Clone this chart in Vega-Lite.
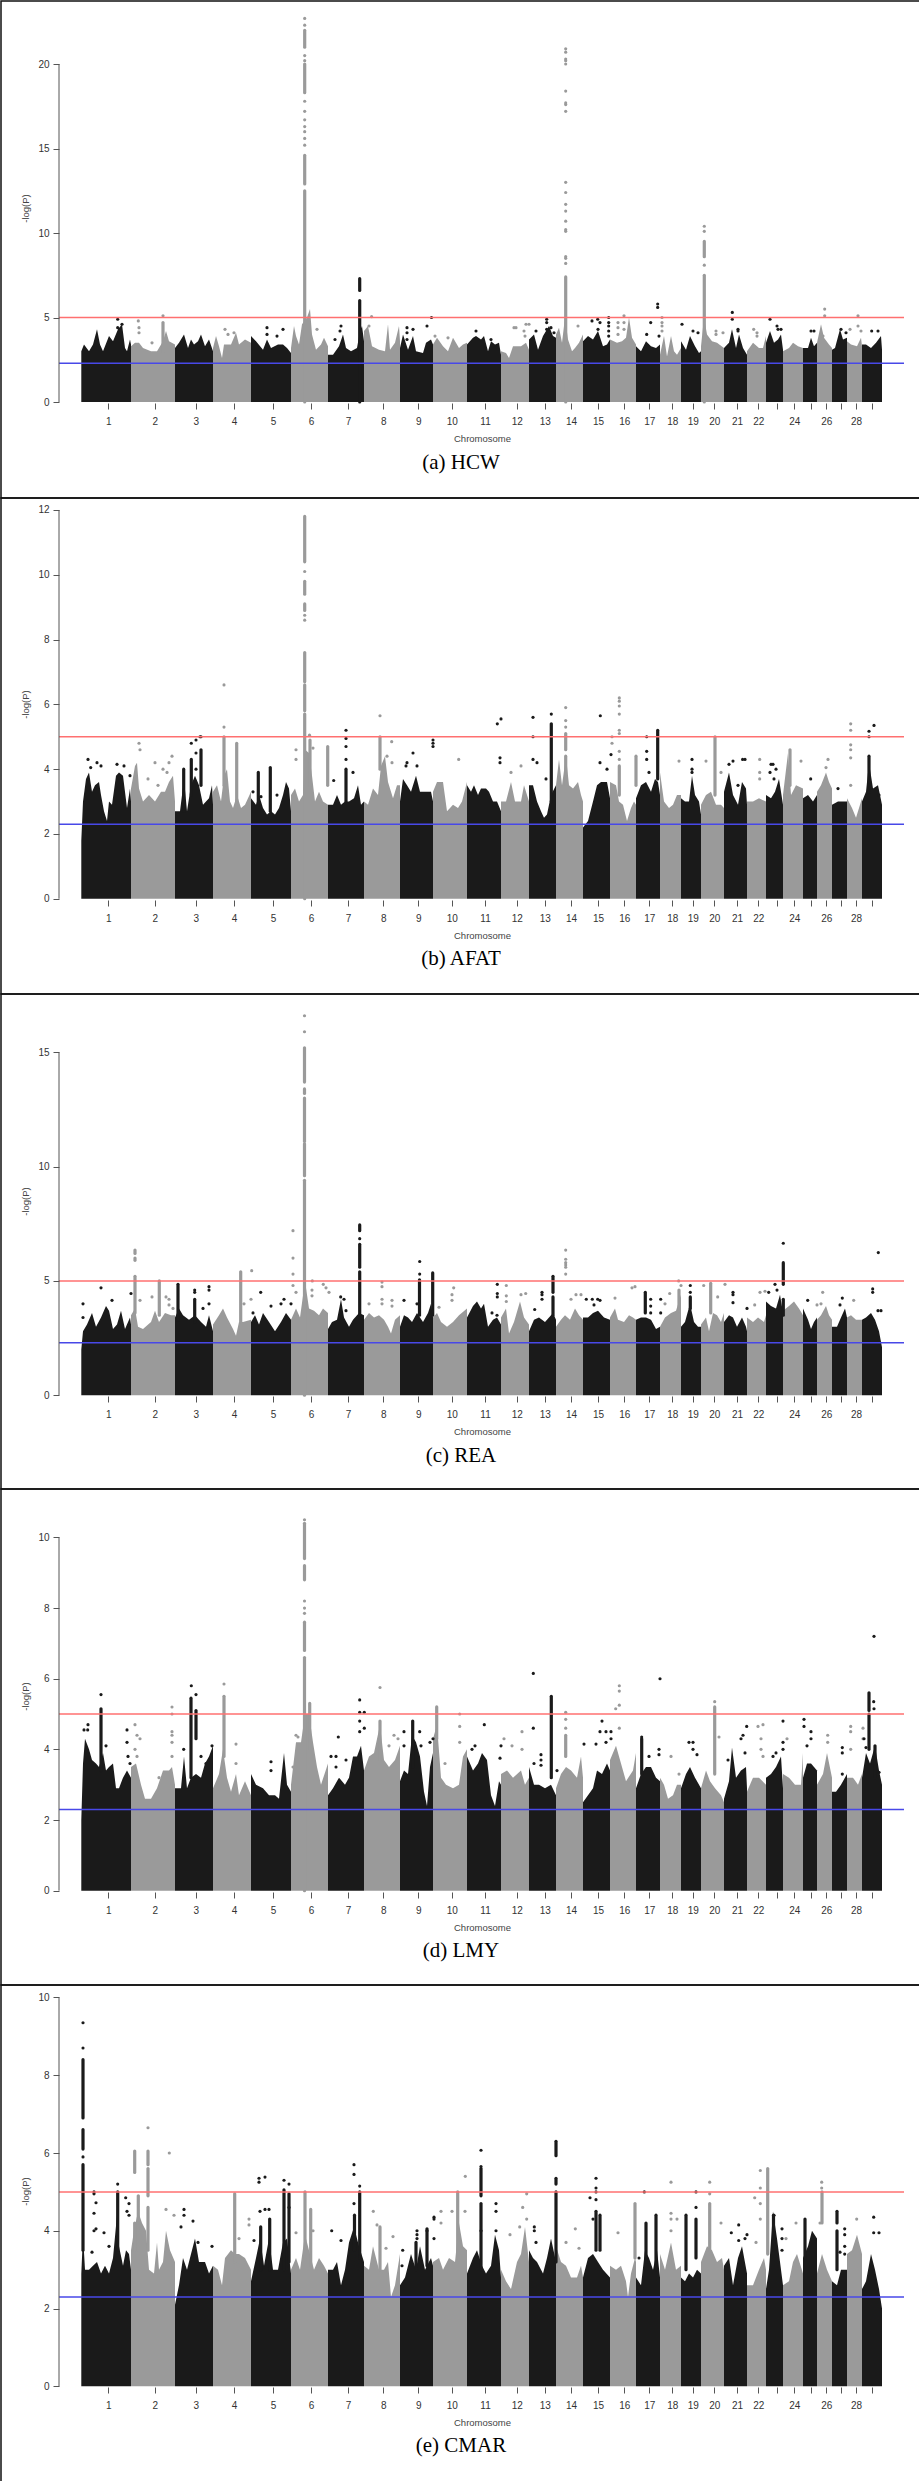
{"$schema":"https://vega.github.io/schema/vega-lite/v6.json","background":"white","padding":0,"spacing":0,"bounds":"flush","config":{"view":{"stroke":"#111111","strokeWidth":1.5},"font":"Liberation Sans"},
"datasets":{
"a_sky":[{"chr":1,"pos":0.3,"y":3.0},{"chr":1,"pos":3,"y":3.4},{"chr":1,"pos":8,"y":3.0},{"chr":1,"pos":12,"y":3.4},{"chr":1,"pos":16,"y":4.3},{"chr":1,"pos":19,"y":3.4},{"chr":1,"pos":22,"y":3.0},{"chr":1,"pos":28,"y":3.9},{"chr":1,"pos":32,"y":3.6},{"chr":1,"pos":37,"y":4.3},{"chr":1,"pos":41,"y":4.6},{"chr":1,"pos":44,"y":3.2},{"chr":1,"pos":46,"y":3.0},{"chr":1,"pos":49,"y":3.7},{"chr":1,"pos":50,"y":3.4},
{"chr":2,"pos":50,"y":3.3},{"chr":2,"pos":54,"y":3.5},{"chr":2,"pos":58,"y":3.5},{"chr":2,"pos":62,"y":3.2},{"chr":2,"pos":70,"y":3.0},{"chr":2,"pos":76,"y":3.0},{"chr":2,"pos":82,"y":3.6},{"chr":2,"pos":85,"y":4.2},{"chr":2,"pos":88,"y":3.6},{"chr":2,"pos":94,"y":3.4},
{"chr":3,"pos":94,"y":3.2},{"chr":3,"pos":98,"y":3.5},{"chr":3,"pos":103,"y":4.0},{"chr":3,"pos":107,"y":3.2},{"chr":3,"pos":110,"y":3.7},{"chr":3,"pos":113,"y":3.4},{"chr":3,"pos":117,"y":3.6},{"chr":3,"pos":120,"y":4.0},{"chr":3,"pos":124,"y":3.3},{"chr":3,"pos":128,"y":3.7},{"chr":3,"pos":132,"y":3.0},
{"chr":4,"pos":132,"y":3.2},{"chr":4,"pos":135,"y":3.9},{"chr":4,"pos":138,"y":3.3},{"chr":4,"pos":141,"y":2.6},{"chr":4,"pos":143,"y":3.4},{"chr":4,"pos":150,"y":3.4},{"chr":4,"pos":155,"y":4.1},{"chr":4,"pos":158,"y":3.4},{"chr":4,"pos":164,"y":3.7},{"chr":4,"pos":170,"y":3.5},
{"chr":5,"pos":170,"y":3.9},{"chr":5,"pos":175,"y":3.6},{"chr":5,"pos":182,"y":3.1},{"chr":5,"pos":186,"y":3.7},{"chr":5,"pos":190,"y":3.2},{"chr":5,"pos":197,"y":3.4},{"chr":5,"pos":202,"y":3.4},{"chr":5,"pos":206,"y":3.2},{"chr":5,"pos":210,"y":2.9},
{"chr":6,"pos":210,"y":3.2},{"chr":6,"pos":213,"y":4.5},{"chr":6,"pos":215,"y":3.9},{"chr":6,"pos":218,"y":3.4},{"chr":6,"pos":221,"y":4.6},{"chr":6,"pos":226,"y":5.0},{"chr":6,"pos":229,"y":5.5},{"chr":6,"pos":231,"y":4.0},{"chr":6,"pos":235,"y":3.1},{"chr":6,"pos":240,"y":3.4},{"chr":6,"pos":243,"y":3.8},{"chr":6,"pos":247,"y":3.3},
{"chr":7,"pos":247,"y":2.8},{"chr":7,"pos":252,"y":2.8},{"chr":7,"pos":258,"y":3.3},{"chr":7,"pos":262,"y":4.0},{"chr":7,"pos":265,"y":3.2},{"chr":7,"pos":270,"y":3.0},{"chr":7,"pos":276,"y":3.2},{"chr":7,"pos":279,"y":4.2},{"chr":7,"pos":281,"y":4.5},{"chr":7,"pos":283,"y":3.6},
{"chr":8,"pos":283,"y":4.2},{"chr":8,"pos":287,"y":4.5},{"chr":8,"pos":291,"y":3.3},{"chr":8,"pos":298,"y":3.1},{"chr":8,"pos":304,"y":3.0},{"chr":8,"pos":307,"y":4.6},{"chr":8,"pos":309,"y":3.1},{"chr":8,"pos":314,"y":3.5},{"chr":8,"pos":318,"y":4.5},{"chr":8,"pos":319,"y":3.6},
{"chr":9,"pos":319,"y":3.2},{"chr":9,"pos":322,"y":4.0},{"chr":9,"pos":327,"y":3.1},{"chr":9,"pos":332,"y":3.9},{"chr":9,"pos":335,"y":3.0},{"chr":9,"pos":342,"y":2.9},{"chr":9,"pos":345,"y":3.5},{"chr":9,"pos":350,"y":3.7},{"chr":9,"pos":352,"y":3.4},
{"chr":10,"pos":352,"y":3.4},{"chr":10,"pos":356,"y":3.8},{"chr":10,"pos":362,"y":3.3},{"chr":10,"pos":367,"y":3.0},{"chr":10,"pos":372,"y":3.8},{"chr":10,"pos":378,"y":3.2},{"chr":10,"pos":382,"y":3.4},{"chr":10,"pos":386,"y":3.5},
{"chr":11,"pos":386,"y":3.4},{"chr":11,"pos":392,"y":3.8},{"chr":11,"pos":395,"y":3.9},{"chr":11,"pos":400,"y":3.7},{"chr":11,"pos":403,"y":3.9},{"chr":11,"pos":407,"y":3.0},{"chr":11,"pos":410,"y":3.6},{"chr":11,"pos":414,"y":3.4},{"chr":11,"pos":418,"y":3.5},{"chr":11,"pos":420,"y":2.8},
{"chr":12,"pos":420,"y":3.0},{"chr":12,"pos":425,"y":2.9},{"chr":12,"pos":428,"y":2.6},{"chr":12,"pos":432,"y":3.3},{"chr":12,"pos":440,"y":3.3},{"chr":12,"pos":445,"y":3.5},{"chr":12,"pos":448,"y":3.1},
{"chr":13,"pos":448,"y":3.7},{"chr":13,"pos":453,"y":4.0},{"chr":13,"pos":457,"y":3.1},{"chr":13,"pos":462,"y":3.9},{"chr":13,"pos":468,"y":4.5},{"chr":13,"pos":472,"y":3.9},{"chr":13,"pos":475,"y":3.8},
{"chr":14,"pos":475,"y":4.0},{"chr":14,"pos":478,"y":4.4},{"chr":14,"pos":481,"y":3.5},{"chr":14,"pos":484,"y":5.0},{"chr":14,"pos":487,"y":3.7},{"chr":14,"pos":491,"y":3.0},{"chr":14,"pos":494,"y":3.2},{"chr":14,"pos":498,"y":3.5},{"chr":14,"pos":502,"y":4.0},
{"chr":15,"pos":502,"y":3.6},{"chr":15,"pos":507,"y":3.9},{"chr":15,"pos":512,"y":3.7},{"chr":15,"pos":517,"y":4.2},{"chr":15,"pos":522,"y":3.3},{"chr":15,"pos":526,"y":3.4},{"chr":15,"pos":529,"y":3.7},
{"chr":16,"pos":529,"y":3.7},{"chr":16,"pos":536,"y":3.5},{"chr":16,"pos":541,"y":3.6},{"chr":16,"pos":545,"y":3.8},{"chr":16,"pos":548,"y":5.0},{"chr":16,"pos":551,"y":3.8},{"chr":16,"pos":555,"y":3.4},
{"chr":17,"pos":555,"y":3.3},{"chr":17,"pos":560,"y":3.0},{"chr":17,"pos":565,"y":3.6},{"chr":17,"pos":570,"y":3.3},{"chr":17,"pos":575,"y":3.2},{"chr":17,"pos":579,"y":3.4},
{"chr":18,"pos":579,"y":2.8},{"chr":18,"pos":583,"y":3.9},{"chr":18,"pos":586,"y":2.7},{"chr":18,"pos":590,"y":3.9},{"chr":18,"pos":593,"y":3.0},{"chr":18,"pos":596,"y":2.8},{"chr":18,"pos":600,"y":3.2},
{"chr":19,"pos":600,"y":3.6},{"chr":19,"pos":605,"y":3.1},{"chr":19,"pos":609,"y":3.9},{"chr":19,"pos":614,"y":3.3},{"chr":19,"pos":618,"y":2.9},{"chr":19,"pos":620,"y":3.0},
{"chr":20,"pos":620,"y":3.3},{"chr":20,"pos":623,"y":5.0},{"chr":20,"pos":626,"y":4.0},{"chr":20,"pos":631,"y":3.6},{"chr":20,"pos":636,"y":3.5},{"chr":20,"pos":643,"y":3.2},
{"chr":21,"pos":643,"y":3.2},{"chr":21,"pos":648,"y":3.5},{"chr":21,"pos":651,"y":4.3},{"chr":21,"pos":655,"y":3.2},{"chr":21,"pos":658,"y":4.0},{"chr":21,"pos":662,"y":3.2},{"chr":21,"pos":666,"y":2.8},
{"chr":22,"pos":666,"y":3.0},{"chr":22,"pos":672,"y":3.5},{"chr":22,"pos":678,"y":3.2},{"chr":22,"pos":682,"y":3.2},{"chr":22,"pos":685,"y":3.9},
{"chr":23,"pos":685,"y":3.5},{"chr":23,"pos":689,"y":4.2},{"chr":23,"pos":693,"y":3.5},{"chr":23,"pos":697,"y":3.7},{"chr":23,"pos":700,"y":4.0},{"chr":23,"pos":702,"y":3.1},
{"chr":24,"pos":702,"y":3.0},{"chr":24,"pos":708,"y":3.2},{"chr":24,"pos":712,"y":3.5},{"chr":24,"pos":717,"y":3.3},{"chr":24,"pos":722,"y":3.2},
{"chr":25,"pos":722,"y":3.2},{"chr":25,"pos":727,"y":3.2},{"chr":25,"pos":730,"y":3.8},{"chr":25,"pos":733,"y":3.3},{"chr":25,"pos":736,"y":3.5},
{"chr":26,"pos":736,"y":3.5},{"chr":26,"pos":740,"y":4.6},{"chr":26,"pos":743,"y":3.8},{"chr":26,"pos":748,"y":3.4},{"chr":26,"pos":751,"y":3.2},
{"chr":27,"pos":751,"y":3.1},{"chr":27,"pos":754,"y":3.2},{"chr":27,"pos":759,"y":4.3},{"chr":27,"pos":762,"y":3.7},{"chr":27,"pos":766,"y":3.8},
{"chr":28,"pos":766,"y":3.6},{"chr":28,"pos":770,"y":3.4},{"chr":28,"pos":776,"y":3.3},{"chr":28,"pos":780,"y":3.8},{"chr":28,"pos":781,"y":3.3},
{"chr":29,"pos":781,"y":3.4},{"chr":29,"pos":785,"y":3.4},{"chr":29,"pos":790,"y":3.2},{"chr":29,"pos":795,"y":3.5},{"chr":29,"pos":800,"y":3.9},{"chr":29,"pos":801,"y":3.1}],
"a_runs":[{"chr":6,"pos":223.7,"lo":0,"y":12.5},{"chr":6,"pos":223.7,"lo":12.9,"y":14.6},{"chr":6,"pos":223.7,"lo":18.3,"y":20},{"chr":6,"pos":223.7,"lo":21,"y":22},{"chr":2,"pos":82,"lo":3,"y":4.7},{"chr":7,"pos":278.7,"lo":0,"y":6.0},{"chr":7,"pos":278.7,"lo":6.6,"y":7.3},{"chr":14,"pos":484.7,"lo":0,"y":7.4},{"chr":20,"pos":623.3,"lo":0,"y":7.5},{"chr":20,"pos":623.3,"lo":8.6,"y":9.5}],
"a_dots":[{"chr":6,"pos":223.7,"y":22.7},{"chr":6,"pos":223.7,"y":22.3},{"chr":6,"pos":223.7,"y":20.5},{"chr":6,"pos":223.7,"y":20.2},{"chr":6,"pos":223.7,"y":17.8},{"chr":6,"pos":223.7,"y":17.2},{"chr":6,"pos":223.7,"y":16.7},{"chr":6,"pos":223.7,"y":16.3},{"chr":6,"pos":223.7,"y":16},{"chr":6,"pos":223.7,"y":15.6},{"chr":6,"pos":223.7,"y":15.2},{"chr":14,"pos":484.7,"y":20.9},{"chr":14,"pos":484.7,"y":20.7},{"chr":14,"pos":484.7,"y":20.3},{"chr":14,"pos":484.7,"y":20.2},{"chr":14,"pos":484.7,"y":20},{"chr":14,"pos":484.7,"y":18.4},{"chr":14,"pos":484.7,"y":17.7},{"chr":14,"pos":484.7,"y":17.6},{"chr":14,"pos":484.7,"y":17.2},{"chr":14,"pos":484.7,"y":13},{"chr":14,"pos":484.7,"y":12.4},{"chr":14,"pos":484.7,"y":11.7},{"chr":14,"pos":484.7,"y":11.3},{"chr":14,"pos":484.7,"y":10.7},{"chr":14,"pos":484.7,"y":10.2},{"chr":14,"pos":484.7,"y":10.1},{"chr":14,"pos":484.7,"y":8.6},{"chr":14,"pos":484.7,"y":8.5},{"chr":14,"pos":484.7,"y":8.2},{"chr":20,"pos":623.3,"y":10.4},{"chr":20,"pos":623.3,"y":10.1},{"chr":20,"pos":623.3,"y":8.1},
{"chr":1,"pos":36.7,"y":4.9},{"chr":1,"pos":36.7,"y":4.4},{"chr":1,"pos":41,"y":4.6},{"chr":2,"pos":57.3,"y":4.8},{"chr":2,"pos":58,"y":4.4},{"chr":2,"pos":58,"y":4.1},{"chr":2,"pos":71,"y":3.5},{"chr":2,"pos":82,"y":5.1},{"chr":4,"pos":144,"y":4.3},{"chr":4,"pos":147,"y":4},{"chr":4,"pos":153,"y":4.1},{"chr":5,"pos":186,"y":4.4},{"chr":5,"pos":186,"y":4.0},{"chr":5,"pos":196,"y":3.9},{"chr":5,"pos":202,"y":4.3},{"chr":6,"pos":236,"y":4.3},{"chr":7,"pos":254,"y":3.7},{"chr":7,"pos":260,"y":4.5},{"chr":7,"pos":259,"y":4.2},{"chr":8,"pos":290.6,"y":5.05},{"chr":8,"pos":288,"y":4.5},{"chr":9,"pos":326,"y":4.4},{"chr":9,"pos":326,"y":4.1},{"chr":9,"pos":326,"y":3.7},{"chr":9,"pos":332,"y":4.3},{"chr":9,"pos":346,"y":4.5},{"chr":9,"pos":350.5,"y":5.0},{"chr":10,"pos":354,"y":3.9},{"chr":10,"pos":367,"y":3.8},{"chr":11,"pos":395,"y":4.2},{"chr":11,"pos":410,"y":3.7},{"chr":12,"pos":433,"y":4.4},{"chr":12,"pos":435,"y":4.4},{"chr":12,"pos":443,"y":4.2},{"chr":12,"pos":445,"y":4.6},{"chr":12,"pos":448,"y":4.6},{"chr":12,"pos":444,"y":3.9},{"chr":13,"pos":455,"y":4.2},{"chr":13,"pos":465.7,"y":4.9},{"chr":13,"pos":465.7,"y":4.7},{"chr":13,"pos":465.7,"y":4.3},{"chr":13,"pos":470,"y":4.4},{"chr":13,"pos":473,"y":4.1},{"chr":14,"pos":497,"y":4.5},{"chr":15,"pos":511,"y":4.8},{"chr":15,"pos":516.7,"y":4.9},{"chr":15,"pos":519,"y":4.7},{"chr":15,"pos":517,"y":4.3},{"chr":15,"pos":527.7,"y":5.0},{"chr":15,"pos":527.7,"y":4.7},{"chr":15,"pos":527.7,"y":4.5},{"chr":15,"pos":527.7,"y":4.2},{"chr":15,"pos":527.7,"y":3.9},{"chr":16,"pos":537,"y":4.7},{"chr":16,"pos":537,"y":4.4},{"chr":16,"pos":543,"y":5.1},{"chr":16,"pos":543,"y":4.7},{"chr":16,"pos":543,"y":4.3},{"chr":16,"pos":537,"y":4.0},{"chr":17,"pos":569.7,"y":4.7},{"chr":17,"pos":565.7,"y":4.0},{"chr":17,"pos":576.7,"y":5.8},{"chr":17,"pos":576.7,"y":5.6},{"chr":17,"pos":578,"y":3.9},{"chr":18,"pos":581,"y":5.0},{"chr":18,"pos":581,"y":4.7},{"chr":18,"pos":581,"y":4.5},{"chr":18,"pos":581,"y":4.2},{"chr":19,"pos":601,"y":4.6},{"chr":19,"pos":612,"y":4.2},{"chr":19,"pos":617,"y":4.1},{"chr":20,"pos":635,"y":4.2},{"chr":20,"pos":635,"y":4.0},{"chr":20,"pos":642,"y":4.1},{"chr":21,"pos":651.3,"y":5.3},{"chr":21,"pos":651.3,"y":4.9},{"chr":21,"pos":657,"y":4.3},{"chr":21,"pos":657,"y":4.2},{"chr":22,"pos":672.7,"y":4.3},{"chr":22,"pos":676,"y":4.1},{"chr":22,"pos":676,"y":3.9},{"chr":23,"pos":689,"y":4.9},{"chr":23,"pos":696,"y":4.5},{"chr":23,"pos":700,"y":4.3},{"chr":23,"pos":697,"y":4.3},{"chr":25,"pos":730,"y":4.2},{"chr":25,"pos":733,"y":4.2},{"chr":26,"pos":743.7,"y":5.5},{"chr":26,"pos":743.7,"y":5.1},{"chr":26,"pos":742,"y":3.9},{"chr":27,"pos":760,"y":4.3},{"chr":27,"pos":765,"y":4.1},{"chr":28,"pos":769,"y":4.3},{"chr":28,"pos":777,"y":5.1},{"chr":28,"pos":777,"y":4.5},{"chr":28,"pos":780,"y":4.2},{"chr":29,"pos":790.7,"y":4.2},{"chr":29,"pos":797,"y":4.2}],
"b_sky":[{"chr":1,"pos":0.3,"y":1.8},{"chr":1,"pos":2,"y":3.0},{"chr":1,"pos":5,"y":3.7},{"chr":1,"pos":8,"y":3.9},{"chr":1,"pos":11,"y":3.3},{"chr":1,"pos":14,"y":3.5},{"chr":1,"pos":18,"y":3.6},{"chr":1,"pos":20,"y":3.2},{"chr":1,"pos":23,"y":2.7},{"chr":1,"pos":26,"y":2.4},{"chr":1,"pos":28,"y":3.0},{"chr":1,"pos":31,"y":2.9},{"chr":1,"pos":35,"y":3.8},{"chr":1,"pos":38,"y":3.9},{"chr":1,"pos":42,"y":3.8},{"chr":1,"pos":46,"y":2.8},{"chr":1,"pos":49,"y":3.4},{"chr":1,"pos":50,"y":3.0},
{"chr":2,"pos":50,"y":3.4},{"chr":2,"pos":54,"y":4.1},{"chr":2,"pos":56,"y":4.2},{"chr":2,"pos":58,"y":3.4},{"chr":2,"pos":62,"y":3.0},{"chr":2,"pos":68,"y":3.2},{"chr":2,"pos":74,"y":3.0},{"chr":2,"pos":80,"y":3.3},{"chr":2,"pos":84,"y":3.3},{"chr":2,"pos":88,"y":3.6},{"chr":2,"pos":92,"y":3.8},{"chr":2,"pos":94,"y":3.0},
{"chr":3,"pos":94,"y":2.7},{"chr":3,"pos":99,"y":2.7},{"chr":3,"pos":103,"y":3.7},{"chr":3,"pos":106,"y":2.7},{"chr":3,"pos":110,"y":3.5},{"chr":3,"pos":114,"y":3.8},{"chr":3,"pos":118,"y":3.5},{"chr":3,"pos":122,"y":2.9},{"chr":3,"pos":128,"y":3.1},{"chr":3,"pos":131,"y":3.5},{"chr":3,"pos":132,"y":2.9},
{"chr":4,"pos":132,"y":3.3},{"chr":4,"pos":136,"y":3.5},{"chr":4,"pos":140,"y":3.0},{"chr":4,"pos":143,"y":3.8},{"chr":4,"pos":146,"y":4.0},{"chr":4,"pos":149,"y":3.0},{"chr":4,"pos":152,"y":2.8},{"chr":4,"pos":156,"y":3.2},{"chr":4,"pos":160,"y":2.8},{"chr":4,"pos":164,"y":2.9},{"chr":4,"pos":170,"y":3.3},
{"chr":5,"pos":170,"y":3.1},{"chr":5,"pos":175,"y":2.9},{"chr":5,"pos":178,"y":3.2},{"chr":5,"pos":182,"y":2.8},{"chr":5,"pos":186,"y":2.6},{"chr":5,"pos":190,"y":2.7},{"chr":5,"pos":194,"y":2.6},{"chr":5,"pos":198,"y":2.8},{"chr":5,"pos":202,"y":3.2},{"chr":5,"pos":205,"y":3.6},{"chr":5,"pos":208,"y":3.4},{"chr":5,"pos":210,"y":2.7},
{"chr":6,"pos":210,"y":3.2},{"chr":6,"pos":214,"y":3.4},{"chr":6,"pos":218,"y":3.0},{"chr":6,"pos":222,"y":3.2},{"chr":6,"pos":224,"y":4.6},{"chr":6,"pos":228,"y":4.5},{"chr":6,"pos":231,"y":3.8},{"chr":6,"pos":234,"y":3.0},{"chr":6,"pos":238,"y":3.3},{"chr":6,"pos":242,"y":3.0},{"chr":6,"pos":247,"y":2.9},
{"chr":7,"pos":247,"y":2.9},{"chr":7,"pos":252,"y":2.9},{"chr":7,"pos":256,"y":3.2},{"chr":7,"pos":260,"y":2.9},{"chr":7,"pos":264,"y":3.0},{"chr":7,"pos":268,"y":3.0},{"chr":7,"pos":273,"y":3.1},{"chr":7,"pos":277,"y":3.5},{"chr":7,"pos":280,"y":2.9},{"chr":7,"pos":283,"y":3.0},
{"chr":8,"pos":283,"y":3.0},{"chr":8,"pos":287,"y":2.9},{"chr":8,"pos":292,"y":3.4},{"chr":8,"pos":297,"y":3.2},{"chr":8,"pos":300,"y":4.1},{"chr":8,"pos":304,"y":4.4},{"chr":8,"pos":307,"y":3.6},{"chr":8,"pos":312,"y":3.1},{"chr":8,"pos":316,"y":3.5},{"chr":8,"pos":319,"y":3.5},
{"chr":9,"pos":319,"y":3.0},{"chr":9,"pos":322,"y":3.7},{"chr":9,"pos":326,"y":3.5},{"chr":9,"pos":330,"y":3.3},{"chr":9,"pos":335,"y":3.8},{"chr":9,"pos":339,"y":3.3},{"chr":9,"pos":344,"y":3.3},{"chr":9,"pos":350,"y":3.3},{"chr":9,"pos":352,"y":3.0},
{"chr":10,"pos":352,"y":3.3},{"chr":10,"pos":356,"y":3.6},{"chr":10,"pos":362,"y":3.6},{"chr":10,"pos":366,"y":2.7},{"chr":10,"pos":372,"y":2.9},{"chr":10,"pos":377,"y":2.8},{"chr":10,"pos":381,"y":3.0},{"chr":10,"pos":386,"y":3.6},
{"chr":11,"pos":386,"y":3.5},{"chr":11,"pos":390,"y":3.3},{"chr":11,"pos":393,"y":3.5},{"chr":11,"pos":397,"y":3.2},{"chr":11,"pos":400,"y":3.4},{"chr":11,"pos":405,"y":3.4},{"chr":11,"pos":408,"y":3.3},{"chr":11,"pos":412,"y":3.0},{"chr":11,"pos":416,"y":3.0},{"chr":11,"pos":420,"y":2.7},
{"chr":12,"pos":420,"y":3.0},{"chr":12,"pos":425,"y":3.0},{"chr":12,"pos":430,"y":3.6},{"chr":12,"pos":434,"y":3.0},{"chr":12,"pos":440,"y":3.0},{"chr":12,"pos":443,"y":3.5},{"chr":12,"pos":448,"y":3.0},
{"chr":13,"pos":448,"y":3.5},{"chr":13,"pos":452,"y":3.5},{"chr":13,"pos":456,"y":3.0},{"chr":13,"pos":460,"y":2.7},{"chr":13,"pos":463,"y":2.5},{"chr":13,"pos":466,"y":2.6},{"chr":13,"pos":470,"y":3.2},{"chr":13,"pos":475,"y":3.5},
{"chr":14,"pos":475,"y":3.5},{"chr":14,"pos":478,"y":4.3},{"chr":14,"pos":481,"y":3.5},{"chr":14,"pos":485,"y":4.4},{"chr":14,"pos":488,"y":3.5},{"chr":14,"pos":492,"y":3.4},{"chr":14,"pos":497,"y":3.6},{"chr":14,"pos":500,"y":3.2},{"chr":14,"pos":502,"y":3.0},
{"chr":15,"pos":502,"y":2.2},{"chr":15,"pos":507,"y":2.4},{"chr":15,"pos":512,"y":3.0},{"chr":15,"pos":516,"y":3.5},{"chr":15,"pos":520,"y":3.6},{"chr":15,"pos":526,"y":3.6},{"chr":15,"pos":529,"y":3.1},
{"chr":16,"pos":529,"y":3.6},{"chr":16,"pos":535,"y":3.5},{"chr":16,"pos":538,"y":3.0},{"chr":16,"pos":542,"y":2.9},{"chr":16,"pos":546,"y":2.4},{"chr":16,"pos":550,"y":2.8},{"chr":16,"pos":553,"y":3.0},{"chr":16,"pos":555,"y":2.9},
{"chr":17,"pos":555,"y":3.1},{"chr":17,"pos":560,"y":3.5},{"chr":17,"pos":565,"y":3.6},{"chr":17,"pos":570,"y":3.3},{"chr":17,"pos":574,"y":3.7},{"chr":17,"pos":577,"y":3.6},{"chr":17,"pos":579,"y":3.2},
{"chr":18,"pos":579,"y":3.9},{"chr":18,"pos":583,"y":3.0},{"chr":18,"pos":588,"y":2.8},{"chr":18,"pos":592,"y":2.9},{"chr":18,"pos":596,"y":3.2},{"chr":18,"pos":600,"y":3.2},
{"chr":19,"pos":600,"y":3.1},{"chr":19,"pos":604,"y":3.0},{"chr":19,"pos":608,"y":3.0},{"chr":19,"pos":611,"y":3.8},{"chr":19,"pos":614,"y":3.2},{"chr":19,"pos":618,"y":3.0},{"chr":19,"pos":620,"y":2.6},
{"chr":20,"pos":620,"y":2.9},{"chr":20,"pos":625,"y":3.2},{"chr":20,"pos":630,"y":3.3},{"chr":20,"pos":635,"y":2.9},{"chr":20,"pos":640,"y":2.9},{"chr":20,"pos":643,"y":2.8},
{"chr":21,"pos":643,"y":3.3},{"chr":21,"pos":648,"y":3.9},{"chr":21,"pos":652,"y":3.2},{"chr":21,"pos":657,"y":2.9},{"chr":21,"pos":661,"y":3.6},{"chr":21,"pos":665,"y":3.4},{"chr":21,"pos":666,"y":2.9},
{"chr":22,"pos":666,"y":3.0},{"chr":22,"pos":672,"y":3.0},{"chr":22,"pos":678,"y":3.1},{"chr":22,"pos":685,"y":3.0},
{"chr":23,"pos":685,"y":3.2},{"chr":23,"pos":690,"y":3.1},{"chr":23,"pos":694,"y":3.3},{"chr":23,"pos":698,"y":3.7},{"chr":23,"pos":702,"y":2.9},
{"chr":24,"pos":702,"y":3.2},{"chr":24,"pos":707,"y":4.5},{"chr":24,"pos":710,"y":3.2},{"chr":24,"pos":715,"y":3.5},{"chr":24,"pos":722,"y":3.4},
{"chr":25,"pos":722,"y":3.1},{"chr":25,"pos":727,"y":3.2},{"chr":25,"pos":732,"y":3.0},{"chr":25,"pos":736,"y":3.2},
{"chr":26,"pos":736,"y":3.3},{"chr":26,"pos":740,"y":3.5},{"chr":26,"pos":745,"y":3.9},{"chr":26,"pos":748,"y":3.6},{"chr":26,"pos":751,"y":3.4},
{"chr":27,"pos":751,"y":2.9},{"chr":27,"pos":757,"y":3.0},{"chr":27,"pos":762,"y":3.0},{"chr":27,"pos":766,"y":3.0},
{"chr":28,"pos":766,"y":3.1},{"chr":28,"pos":771,"y":2.8},{"chr":28,"pos":775,"y":2.5},{"chr":28,"pos":781,"y":3.1},
{"chr":29,"pos":781,"y":3.0},{"chr":29,"pos":785,"y":3.3},{"chr":29,"pos":788,"y":4.2},{"chr":29,"pos":792,"y":3.4},{"chr":29,"pos":797,"y":3.5},{"chr":29,"pos":801,"y":2.9}],
"b_runs":[{"chr":6,"pos":223.7,"lo":0,"y":5.7},{"chr":6,"pos":223.7,"lo":5.8,"y":6.6},{"chr":6,"pos":223.7,"lo":6.7,"y":7.6},{"chr":6,"pos":223.7,"lo":8.9,"y":9.1},{"chr":6,"pos":223.7,"lo":9.4,"y":9.8},{"chr":6,"pos":223.7,"lo":10.4,"y":11.8},{"chr":3,"pos":110.3,"lo":3.2,"y":4.3},{"chr":3,"pos":120,"lo":3.5,"y":4.6},{"chr":3,"pos":102.7,"lo":2.7,"y":4.0},{"chr":4,"pos":143,"lo":3.5,"y":5.0},{"chr":4,"pos":155.7,"lo":3.0,"y":4.8},{"chr":5,"pos":177.3,"lo":2.9,"y":3.9},{"chr":5,"pos":189.3,"lo":2.7,"y":4.05},{"chr":7,"pos":265,"lo":3.0,"y":4.0},{"chr":8,"pos":299,"lo":4,"y":5.0},{"chr":6,"pos":229,"lo":3.5,"y":4.9},{"chr":6,"pos":246.7,"lo":3.5,"y":4.7},{"chr":13,"pos":470.3,"lo":3.0,"y":5.4},{"chr":14,"pos":484.7,"lo":3.5,"y":4.4},{"chr":14,"pos":484.7,"lo":4.6,"y":5.1},{"chr":16,"pos":538.3,"lo":3.2,"y":4.1},{"chr":17,"pos":576.7,"lo":3.7,"y":5.2},{"chr":20,"pos":634,"lo":3.2,"y":5.0},{"chr":24,"pos":709,"lo":3.5,"y":4.6},{"chr":16,"pos":555,"lo":3.5,"y":4.4},{"chr":29,"pos":788,"lo":3.3,"y":4.4}],
"b_dots":[{"chr":6,"pos":223.7,"y":10.1},{"chr":6,"pos":223.7,"y":8.75},{"chr":6,"pos":223.7,"y":8.6},{"chr":3,"pos":115,"y":4.9},{"chr":3,"pos":115,"y":4.5},{"chr":3,"pos":115,"y":4.0},{"chr":3,"pos":110.3,"y":4.8},{"chr":3,"pos":120,"y":5.0},{"chr":3,"pos":119,"y":5.0},{"chr":4,"pos":143,"y":5.3},{"chr":4,"pos":143,"y":6.6},{"chr":7,"pos":265,"y":4.3},{"chr":7,"pos":265,"y":4.7},{"chr":7,"pos":265,"y":4.95},{"chr":7,"pos":265,"y":5.2},{"chr":13,"pos":470.3,"y":5.7},{"chr":14,"pos":484.7,"y":5.3},{"chr":14,"pos":484.7,"y":5.5},{"chr":14,"pos":484.7,"y":5.9},{"chr":16,"pos":538.3,"y":6.2},{"chr":16,"pos":538.3,"y":6.1},{"chr":16,"pos":538.3,"y":5.95},{"chr":16,"pos":538.3,"y":5.7},{"chr":16,"pos":538.3,"y":5.2},{"chr":16,"pos":538.3,"y":5.1},{"chr":16,"pos":538.3,"y":4.55},{"chr":16,"pos":538.3,"y":4.3},{"chr":29,"pos":788,"y":5.17},{"chr":29,"pos":788,"y":5.0},
{"chr":1,"pos":7,"y":4.3},{"chr":1,"pos":16,"y":4.2},{"chr":1,"pos":20,"y":4.1},{"chr":1,"pos":9.7,"y":4.05},{"chr":1,"pos":36,"y":4.15},{"chr":1,"pos":43,"y":4.1},{"chr":1,"pos":49,"y":3.8},{"chr":2,"pos":58,"y":4.8},{"chr":2,"pos":59,"y":4.6},{"chr":2,"pos":67,"y":3.7},{"chr":2,"pos":74,"y":4.2},{"chr":2,"pos":77,"y":3.5},{"chr":2,"pos":82,"y":4.0},{"chr":2,"pos":91,"y":4.4},{"chr":2,"pos":88,"y":4.2},{"chr":2,"pos":86,"y":3.9},{"chr":6,"pos":215,"y":4.6},{"chr":6,"pos":215,"y":4.3},{"chr":6,"pos":228.5,"y":5.05},{"chr":6,"pos":232,"y":4.65},{"chr":7,"pos":252.7,"y":3.65},{"chr":7,"pos":272,"y":3.9},{"chr":8,"pos":299,"y":5.65},{"chr":8,"pos":310.7,"y":4.85},{"chr":8,"pos":306,"y":4.4},{"chr":8,"pos":311,"y":4.2},{"chr":9,"pos":332,"y":4.5},{"chr":9,"pos":326,"y":4.2},{"chr":9,"pos":325,"y":4.1},{"chr":9,"pos":336,"y":4.1},{"chr":9,"pos":352,"y":4.9},{"chr":9,"pos":352,"y":4.8},{"chr":9,"pos":352,"y":4.7},{"chr":10,"pos":377.7,"y":4.3},{"chr":11,"pos":420,"y":5.55},{"chr":11,"pos":416.3,"y":5.4},{"chr":11,"pos":419,"y":4.35},{"chr":11,"pos":419,"y":4.2},{"chr":12,"pos":440,"y":4.1},{"chr":12,"pos":430,"y":3.9},{"chr":13,"pos":452,"y":5.6},{"chr":13,"pos":452,"y":5.0},{"chr":13,"pos":452,"y":4.3},{"chr":13,"pos":456,"y":4.2},{"chr":13,"pos":465,"y":3.7},{"chr":15,"pos":519.3,"y":5.65},{"chr":15,"pos":519,"y":4.2},{"chr":15,"pos":530,"y":4.45},{"chr":15,"pos":526,"y":4.0},{"chr":16,"pos":531,"y":4.8},{"chr":16,"pos":531,"y":5.0},{"chr":17,"pos":565.7,"y":5.0},{"chr":17,"pos":565.7,"y":4.55},{"chr":17,"pos":565.7,"y":4.3},{"chr":17,"pos":568,"y":3.9},{"chr":19,"pos":611,"y":4.3},{"chr":19,"pos":611,"y":4.0},{"chr":19,"pos":611,"y":3.9},{"chr":18,"pos":598,"y":4.25},{"chr":20,"pos":625,"y":4.25},{"chr":20,"pos":640,"y":3.9},{"chr":21,"pos":648,"y":4.15},{"chr":21,"pos":652,"y":4.25},{"chr":21,"pos":661.6,"y":4.3},{"chr":21,"pos":664,"y":4.3},{"chr":21,"pos":657,"y":3.5},{"chr":23,"pos":690,"y":4.15},{"chr":23,"pos":692,"y":4.15},{"chr":23,"pos":695,"y":4.0},{"chr":23,"pos":689,"y":3.9},{"chr":23,"pos":693,"y":3.7},{"chr":22,"pos":678.7,"y":4.3},{"chr":22,"pos":678.7,"y":3.9},{"chr":22,"pos":678.7,"y":3.7},{"chr":24,"pos":720,"y":4.25},{"chr":25,"pos":729.7,"y":3.7},{"chr":26,"pos":747,"y":4.3},{"chr":26,"pos":745,"y":4.05},{"chr":27,"pos":757,"y":3.4},{"chr":28,"pos":769.7,"y":5.4},{"chr":28,"pos":769.7,"y":5.2},{"chr":28,"pos":769.7,"y":4.75},{"chr":28,"pos":769.7,"y":4.6},{"chr":28,"pos":769.7,"y":4.35},{"chr":28,"pos":769.7,"y":3.5},{"chr":29,"pos":793,"y":5.35},{"chr":29,"pos":798,"y":3.2},{"chr":5,"pos":172,"y":3.3},{"chr":5,"pos":180,"y":3.15},{"chr":5,"pos":196,"y":3.2}],
"c_sky":[{"chr":1,"pos":0.3,"y":2.0},{"chr":1,"pos":2,"y":2.8},{"chr":1,"pos":6,"y":3.1},{"chr":1,"pos":11,"y":3.6},{"chr":1,"pos":15,"y":3.0},{"chr":1,"pos":20,"y":3.4},{"chr":1,"pos":25,"y":3.9},{"chr":1,"pos":28,"y":3.7},{"chr":1,"pos":32,"y":2.9},{"chr":1,"pos":36,"y":3.1},{"chr":1,"pos":40,"y":3.7},{"chr":1,"pos":44,"y":2.9},{"chr":1,"pos":49,"y":3.4},{"chr":1,"pos":50,"y":3.1},
{"chr":2,"pos":50,"y":3.5},{"chr":2,"pos":54,"y":3.8},{"chr":2,"pos":57,"y":3.0},{"chr":2,"pos":62,"y":2.9},{"chr":2,"pos":70,"y":3.2},{"chr":2,"pos":74,"y":3.7},{"chr":2,"pos":78,"y":3.2},{"chr":2,"pos":84,"y":3.6},{"chr":2,"pos":90,"y":3.5},{"chr":2,"pos":94,"y":3.5},
{"chr":3,"pos":94,"y":3.4},{"chr":3,"pos":98,"y":3.8},{"chr":3,"pos":102,"y":3.5},{"chr":3,"pos":108,"y":3.3},{"chr":3,"pos":114,"y":3.5},{"chr":3,"pos":120,"y":3.2},{"chr":3,"pos":125,"y":3.0},{"chr":3,"pos":128,"y":3.5},{"chr":3,"pos":132,"y":2.8},
{"chr":4,"pos":132,"y":3.1},{"chr":4,"pos":138,"y":3.5},{"chr":4,"pos":142,"y":3.8},{"chr":4,"pos":146,"y":3.4},{"chr":4,"pos":152,"y":2.9},{"chr":4,"pos":155,"y":2.6},{"chr":4,"pos":158,"y":3.2},{"chr":4,"pos":162,"y":3.2},{"chr":4,"pos":170,"y":3.3},
{"chr":5,"pos":170,"y":3.2},{"chr":5,"pos":174,"y":3.5},{"chr":5,"pos":178,"y":3.1},{"chr":5,"pos":182,"y":3.6},{"chr":5,"pos":188,"y":3.2},{"chr":5,"pos":194,"y":2.8},{"chr":5,"pos":200,"y":3.2},{"chr":5,"pos":205,"y":3.6},{"chr":5,"pos":210,"y":3.3},
{"chr":6,"pos":210,"y":3.3},{"chr":6,"pos":215,"y":3.8},{"chr":6,"pos":219,"y":3.4},{"chr":6,"pos":224,"y":5.0},{"chr":6,"pos":228,"y":3.8},{"chr":6,"pos":233,"y":3.7},{"chr":6,"pos":238,"y":3.5},{"chr":6,"pos":242,"y":3.8},{"chr":6,"pos":247,"y":3.6},
{"chr":7,"pos":247,"y":2.9},{"chr":7,"pos":251,"y":3.2},{"chr":7,"pos":256,"y":3.3},{"chr":7,"pos":260,"y":4.2},{"chr":7,"pos":263,"y":3.4},{"chr":7,"pos":268,"y":3.0},{"chr":7,"pos":272,"y":3.3},{"chr":7,"pos":278,"y":3.6},{"chr":7,"pos":283,"y":3.5},
{"chr":8,"pos":283,"y":3.3},{"chr":8,"pos":288,"y":3.6},{"chr":8,"pos":293,"y":3.4},{"chr":8,"pos":298,"y":3.5},{"chr":8,"pos":303,"y":3.3},{"chr":8,"pos":307,"y":3.0},{"chr":8,"pos":310,"y":2.7},{"chr":8,"pos":314,"y":3.3},{"chr":8,"pos":319,"y":3.5},
{"chr":9,"pos":319,"y":3.0},{"chr":9,"pos":323,"y":3.5},{"chr":9,"pos":327,"y":3.4},{"chr":9,"pos":331,"y":3.2},{"chr":9,"pos":336,"y":3.6},{"chr":9,"pos":342,"y":3.2},{"chr":9,"pos":347,"y":3.6},{"chr":9,"pos":350,"y":4.0},{"chr":9,"pos":352,"y":3.4},
{"chr":10,"pos":352,"y":3.4},{"chr":10,"pos":356,"y":3.6},{"chr":10,"pos":360,"y":3.2},{"chr":10,"pos":366,"y":3.0},{"chr":10,"pos":372,"y":3.2},{"chr":10,"pos":378,"y":3.5},{"chr":10,"pos":386,"y":3.8},
{"chr":11,"pos":386,"y":3.4},{"chr":11,"pos":392,"y":3.9},{"chr":11,"pos":396,"y":4.1},{"chr":11,"pos":400,"y":3.8},{"chr":11,"pos":403,"y":4.0},{"chr":11,"pos":407,"y":3.0},{"chr":11,"pos":412,"y":3.3},{"chr":11,"pos":416,"y":3.4},{"chr":11,"pos":420,"y":3.1},
{"chr":12,"pos":420,"y":3.4},{"chr":12,"pos":425,"y":3.8},{"chr":12,"pos":428,"y":2.7},{"chr":12,"pos":433,"y":3.2},{"chr":12,"pos":439,"y":4.1},{"chr":12,"pos":443,"y":3.4},{"chr":12,"pos":448,"y":3.1},
{"chr":13,"pos":448,"y":2.8},{"chr":13,"pos":453,"y":3.3},{"chr":13,"pos":458,"y":3.4},{"chr":13,"pos":464,"y":3.2},{"chr":13,"pos":468,"y":3.4},{"chr":13,"pos":472,"y":3.6},{"chr":13,"pos":475,"y":3.3},
{"chr":14,"pos":475,"y":3.0},{"chr":14,"pos":480,"y":3.3},{"chr":14,"pos":484,"y":3.5},{"chr":14,"pos":489,"y":3.3},{"chr":14,"pos":494,"y":3.8},{"chr":14,"pos":498,"y":3.5},{"chr":14,"pos":502,"y":3.3},
{"chr":15,"pos":502,"y":3.4},{"chr":15,"pos":507,"y":3.4},{"chr":15,"pos":512,"y":3.6},{"chr":15,"pos":517,"y":3.7},{"chr":15,"pos":523,"y":3.4},{"chr":15,"pos":529,"y":3.3},
{"chr":16,"pos":529,"y":3.4},{"chr":16,"pos":534,"y":3.8},{"chr":16,"pos":537,"y":3.3},{"chr":16,"pos":543,"y":3.2},{"chr":16,"pos":548,"y":3.5},{"chr":16,"pos":552,"y":3.4},{"chr":16,"pos":555,"y":3.3},
{"chr":17,"pos":555,"y":3.3},{"chr":17,"pos":560,"y":3.4},{"chr":17,"pos":565,"y":3.4},{"chr":17,"pos":570,"y":3.3},{"chr":17,"pos":575,"y":2.9},{"chr":17,"pos":579,"y":3.0},
{"chr":18,"pos":579,"y":3.0},{"chr":18,"pos":584,"y":3.4},{"chr":18,"pos":590,"y":3.6},{"chr":18,"pos":595,"y":3.7},{"chr":18,"pos":600,"y":4.4},
{"chr":19,"pos":600,"y":3.0},{"chr":19,"pos":604,"y":3.2},{"chr":19,"pos":609,"y":4.0},{"chr":19,"pos":613,"y":3.2},{"chr":19,"pos":617,"y":3.0},{"chr":19,"pos":620,"y":3.0},
{"chr":20,"pos":620,"y":3.1},{"chr":20,"pos":625,"y":3.4},{"chr":20,"pos":628,"y":2.8},{"chr":20,"pos":632,"y":3.6},{"chr":20,"pos":636,"y":3.5},{"chr":20,"pos":640,"y":3.2},{"chr":20,"pos":643,"y":3.6},
{"chr":21,"pos":643,"y":3.2},{"chr":21,"pos":648,"y":3.5},{"chr":21,"pos":652,"y":3.4},{"chr":21,"pos":656,"y":3.0},{"chr":21,"pos":661,"y":3.4},{"chr":21,"pos":665,"y":3.0},{"chr":21,"pos":666,"y":2.8},
{"chr":22,"pos":666,"y":3.4},{"chr":22,"pos":672,"y":3.2},{"chr":22,"pos":677,"y":3.4},{"chr":22,"pos":683,"y":3.2},{"chr":22,"pos":685,"y":3.5},
{"chr":23,"pos":685,"y":4.1},{"chr":23,"pos":690,"y":3.9},{"chr":23,"pos":695,"y":3.8},{"chr":23,"pos":699,"y":4.4},{"chr":23,"pos":702,"y":3.6},
{"chr":24,"pos":702,"y":3.7},{"chr":24,"pos":708,"y":3.9},{"chr":24,"pos":713,"y":4.1},{"chr":24,"pos":718,"y":3.8},{"chr":24,"pos":722,"y":3.5},
{"chr":25,"pos":722,"y":3.8},{"chr":25,"pos":727,"y":3.3},{"chr":25,"pos":730,"y":2.9},{"chr":25,"pos":733,"y":3.2},{"chr":25,"pos":736,"y":3.4},
{"chr":26,"pos":736,"y":3.3},{"chr":26,"pos":740,"y":3.5},{"chr":26,"pos":745,"y":3.9},{"chr":26,"pos":748,"y":3.5},{"chr":26,"pos":751,"y":3.3},
{"chr":27,"pos":751,"y":3.0},{"chr":27,"pos":756,"y":3.0},{"chr":27,"pos":760,"y":3.4},{"chr":27,"pos":764,"y":3.8},{"chr":27,"pos":766,"y":3.4},
{"chr":28,"pos":766,"y":3.4},{"chr":28,"pos":770,"y":3.5},{"chr":28,"pos":775,"y":3.3},{"chr":28,"pos":781,"y":3.3},
{"chr":29,"pos":781,"y":3.3},{"chr":29,"pos":785,"y":3.4},{"chr":29,"pos":790,"y":3.6},{"chr":29,"pos":794,"y":3.3},{"chr":29,"pos":798,"y":2.8},{"chr":29,"pos":801,"y":2.1}],
"c_runs":[{"chr":2,"pos":54,"lo":3.6,"y":5.2},{"chr":2,"pos":54,"lo":5.9,"y":6.0},{"chr":2,"pos":54,"lo":6.2,"y":6.35},{"chr":2,"pos":78.3,"lo":3.5,"y":5.0},{"chr":3,"pos":97,"lo":3.3,"y":4.85},{"chr":3,"pos":113.7,"lo":3.2,"y":4.2},{"chr":4,"pos":159.7,"lo":3.2,"y":5.4},{"chr":6,"pos":223.5,"lo":0,"y":9.4},{"chr":6,"pos":223.5,"lo":9.6,"y":11},{"chr":6,"pos":223.5,"lo":11.1,"y":13.0},{"chr":6,"pos":223.5,"lo":13.2,"y":13.4},{"chr":6,"pos":223.5,"lo":13.7,"y":15.2},{"chr":7,"pos":278.7,"lo":3.5,"y":5.4},{"chr":7,"pos":278.7,"lo":5.6,"y":6.6},{"chr":7,"pos":278.7,"lo":7.2,"y":7.45},{"chr":9,"pos":338.5,"lo":3.5,"y":5.05},{"chr":9,"pos":351.7,"lo":3.5,"y":5.35},{"chr":13,"pos":472,"lo":3.5,"y":4.3},{"chr":13,"pos":472,"lo":4.5,"y":5.2},{"chr":23,"pos":702.3,"lo":3.5,"y":4.2},{"chr":23,"pos":702.3,"lo":4.85,"y":5.8},{"chr":17,"pos":564.3,"lo":3.6,"y":4.5},{"chr":19,"pos":609.3,"lo":3.8,"y":4.3},{"chr":20,"pos":629.7,"lo":3.6,"y":4.9},{"chr":18,"pos":598,"lo":3.7,"y":4.6}],
"c_dots":[{"chr":6,"pos":223.5,"y":15.9},{"chr":6,"pos":223.5,"y":16.6},{"chr":7,"pos":278.7,"y":6.85},{"chr":23,"pos":702.3,"y":6.65},{"chr":1,"pos":2,"y":4.0},{"chr":1,"pos":2,"y":3.4},{"chr":1,"pos":20,"y":4.7},{"chr":1,"pos":31,"y":4.15},{"chr":1,"pos":50,"y":4.45},{"chr":2,"pos":59,"y":4.15},{"chr":2,"pos":71,"y":4.3},{"chr":2,"pos":85,"y":4.3},{"chr":2,"pos":88,"y":4.2},{"chr":2,"pos":88,"y":3.95},{"chr":2,"pos":92,"y":3.8},{"chr":3,"pos":113.7,"y":4.6},{"chr":3,"pos":113.7,"y":4.5},{"chr":3,"pos":128,"y":4.75},{"chr":3,"pos":128,"y":4.6},{"chr":3,"pos":128,"y":4.0},{"chr":3,"pos":122,"y":3.8},{"chr":4,"pos":170.7,"y":5.45},{"chr":4,"pos":163,"y":4.0},{"chr":4,"pos":170,"y":4.2},{"chr":5,"pos":179.7,"y":4.5},{"chr":5,"pos":172,"y":3.6},{"chr":5,"pos":190,"y":3.9},{"chr":5,"pos":203,"y":4.2},{"chr":5,"pos":200,"y":4.0},{"chr":5,"pos":210,"y":4.0},{"chr":6,"pos":212,"y":7.2},{"chr":6,"pos":212,"y":6.0},{"chr":6,"pos":212,"y":5.3},{"chr":6,"pos":212,"y":4.8},{"chr":6,"pos":215,"y":4.5},{"chr":6,"pos":231.3,"y":5.0},{"chr":6,"pos":231,"y":4.6},{"chr":6,"pos":231,"y":4.35},{"chr":6,"pos":242.3,"y":4.85},{"chr":6,"pos":245,"y":4.7},{"chr":6,"pos":248,"y":4.5},{"chr":7,"pos":259.7,"y":4.3},{"chr":7,"pos":263,"y":4.2},{"chr":7,"pos":265,"y":3.7},{"chr":8,"pos":301,"y":4.95},{"chr":8,"pos":301,"y":4.75},{"chr":8,"pos":301,"y":4.2},{"chr":8,"pos":301,"y":4.0},{"chr":8,"pos":288,"y":4.0},{"chr":8,"pos":311,"y":4.15},{"chr":8,"pos":311,"y":3.9},{"chr":9,"pos":323,"y":4.15},{"chr":9,"pos":338.7,"y":5.85},{"chr":9,"pos":338.7,"y":5.3},{"chr":9,"pos":336,"y":4.0},{"chr":10,"pos":372.7,"y":4.7},{"chr":10,"pos":371,"y":4.4},{"chr":10,"pos":371,"y":4.15},{"chr":10,"pos":358,"y":3.85},{"chr":11,"pos":416.3,"y":4.85},{"chr":11,"pos":416.3,"y":4.45},{"chr":11,"pos":416.3,"y":4.3},{"chr":11,"pos":411,"y":3.6},{"chr":11,"pos":416,"y":3.5},{"chr":12,"pos":425.3,"y":4.8},{"chr":12,"pos":425.3,"y":4.35},{"chr":12,"pos":425.3,"y":4.1},{"chr":12,"pos":440,"y":4.4},{"chr":12,"pos":444.7,"y":4.45},{"chr":13,"pos":461,"y":4.5},{"chr":13,"pos":461,"y":4.4},{"chr":13,"pos":461,"y":4.2},{"chr":13,"pos":453.7,"y":3.75},{"chr":14,"pos":484.7,"y":6.35},{"chr":14,"pos":484.7,"y":5.95},{"chr":14,"pos":484.7,"y":5.8},{"chr":14,"pos":484.7,"y":5.7},{"chr":14,"pos":484.7,"y":5.6},{"chr":14,"pos":484.7,"y":5.3},{"chr":14,"pos":490,"y":4.2},{"chr":14,"pos":495,"y":4.4},{"chr":14,"pos":500,"y":4.4},{"chr":15,"pos":505.3,"y":4.2},{"chr":15,"pos":511.3,"y":4.2},{"chr":15,"pos":516.7,"y":4.2},{"chr":15,"pos":519,"y":4.15},{"chr":15,"pos":513,"y":3.95},{"chr":16,"pos":534,"y":4.25},{"chr":16,"pos":554,"y":4.75},{"chr":16,"pos":551,"y":4.7},{"chr":17,"pos":569.7,"y":4.2},{"chr":17,"pos":569.7,"y":3.9},{"chr":17,"pos":569.7,"y":3.6},{"chr":17,"pos":579.7,"y":4.2},{"chr":17,"pos":579.7,"y":3.6},{"chr":18,"pos":588.7,"y":4.45},{"chr":18,"pos":584,"y":4.0},{"chr":18,"pos":597.7,"y":5.0},{"chr":18,"pos":600,"y":4.8},{"chr":19,"pos":609.3,"y":4.8},{"chr":19,"pos":609.3,"y":4.5},{"chr":20,"pos":622.7,"y":4.8},{"chr":20,"pos":636.7,"y":4.3},{"chr":20,"pos":644,"y":4.85},{"chr":21,"pos":652,"y":4.5},{"chr":21,"pos":652,"y":4.4},{"chr":21,"pos":652,"y":4.05},{"chr":21,"pos":666,"y":3.8},{"chr":22,"pos":673.7,"y":3.95},{"chr":22,"pos":679,"y":4.5},{"chr":22,"pos":684,"y":4.55},{"chr":23,"pos":687.7,"y":4.5},{"chr":23,"pos":694,"y":4.85},{"chr":23,"pos":696,"y":4.6},{"chr":25,"pos":726.7,"y":4.15},{"chr":26,"pos":741.7,"y":4.5},{"chr":26,"pos":740,"y":4.0},{"chr":26,"pos":736,"y":3.95},{"chr":27,"pos":761.3,"y":4.25},{"chr":27,"pos":759,"y":3.95},{"chr":28,"pos":772.7,"y":4.15},{"chr":29,"pos":791.7,"y":4.65},{"chr":29,"pos":791.7,"y":4.5},{"chr":29,"pos":797,"y":3.7},{"chr":29,"pos":800,"y":3.7},{"chr":29,"pos":797.3,"y":6.24}],
"d_sky":[{"chr":1,"pos":0.3,"y":2.0},{"chr":1,"pos":2,"y":3.6},{"chr":1,"pos":4,"y":4.3},{"chr":1,"pos":8,"y":4.0},{"chr":1,"pos":11,"y":3.7},{"chr":1,"pos":15,"y":3.6},{"chr":1,"pos":18,"y":3.5},{"chr":1,"pos":22,"y":3.9},{"chr":1,"pos":25,"y":3.4},{"chr":1,"pos":28,"y":3.5},{"chr":1,"pos":32,"y":3.6},{"chr":1,"pos":35,"y":2.9},{"chr":1,"pos":38,"y":2.9},{"chr":1,"pos":42,"y":3.2},{"chr":1,"pos":46,"y":3.4},{"chr":1,"pos":50,"y":3.2},
{"chr":2,"pos":50,"y":3.5},{"chr":2,"pos":55,"y":3.6},{"chr":2,"pos":60,"y":3.0},{"chr":2,"pos":64,"y":2.6},{"chr":2,"pos":70,"y":2.6},{"chr":2,"pos":76,"y":2.9},{"chr":2,"pos":82,"y":3.4},{"chr":2,"pos":88,"y":3.4},{"chr":2,"pos":91,"y":3.5},{"chr":2,"pos":94,"y":3.0},
{"chr":3,"pos":94,"y":2.9},{"chr":3,"pos":100,"y":2.9},{"chr":3,"pos":103,"y":3.8},{"chr":3,"pos":106,"y":2.9},{"chr":3,"pos":110,"y":3.2},{"chr":3,"pos":115,"y":3.3},{"chr":3,"pos":120,"y":3.2},{"chr":3,"pos":124,"y":3.6},{"chr":3,"pos":128,"y":3.8},{"chr":3,"pos":132,"y":4.1},
{"chr":4,"pos":132,"y":2.9},{"chr":4,"pos":138,"y":3.3},{"chr":4,"pos":142,"y":4.0},{"chr":4,"pos":146,"y":3.2},{"chr":4,"pos":150,"y":2.8},{"chr":4,"pos":155,"y":3.3},{"chr":4,"pos":158,"y":2.7},{"chr":4,"pos":164,"y":3.1},{"chr":4,"pos":170,"y":2.7},
{"chr":5,"pos":170,"y":3.3},{"chr":5,"pos":175,"y":3.0},{"chr":5,"pos":182,"y":2.9},{"chr":5,"pos":188,"y":2.7},{"chr":5,"pos":194,"y":2.7},{"chr":5,"pos":198,"y":2.6},{"chr":5,"pos":203,"y":3.9},{"chr":5,"pos":206,"y":3.0},{"chr":5,"pos":210,"y":2.8},
{"chr":6,"pos":210,"y":3.0},{"chr":6,"pos":215,"y":4.2},{"chr":6,"pos":220,"y":4.2},{"chr":6,"pos":224,"y":5.0},{"chr":6,"pos":228,"y":5.0},{"chr":6,"pos":232,"y":4.2},{"chr":6,"pos":236,"y":3.5},{"chr":6,"pos":240,"y":3.0},{"chr":6,"pos":247,"y":3.6},
{"chr":7,"pos":247,"y":2.7},{"chr":7,"pos":252,"y":2.9},{"chr":7,"pos":258,"y":3.2},{"chr":7,"pos":264,"y":3.0},{"chr":7,"pos":268,"y":3.2},{"chr":7,"pos":272,"y":3.8},{"chr":7,"pos":276,"y":3.8},{"chr":7,"pos":280,"y":4.1},{"chr":7,"pos":283,"y":3.4},
{"chr":8,"pos":283,"y":3.4},{"chr":8,"pos":288,"y":3.8},{"chr":8,"pos":293,"y":3.9},{"chr":8,"pos":299,"y":4.7},{"chr":8,"pos":303,"y":3.7},{"chr":8,"pos":308,"y":3.5},{"chr":8,"pos":314,"y":3.7},{"chr":8,"pos":319,"y":4.1},
{"chr":9,"pos":319,"y":3.1},{"chr":9,"pos":323,"y":3.4},{"chr":9,"pos":327,"y":3.3},{"chr":9,"pos":331,"y":4.4},{"chr":9,"pos":335,"y":4.2},{"chr":9,"pos":339,"y":3.8},{"chr":9,"pos":343,"y":2.8},{"chr":9,"pos":346,"y":2.4},{"chr":9,"pos":349,"y":3.5},{"chr":9,"pos":352,"y":3.9},
{"chr":10,"pos":352,"y":4.3},{"chr":10,"pos":356,"y":4.7},{"chr":10,"pos":360,"y":3.2},{"chr":10,"pos":365,"y":3.0},{"chr":10,"pos":372,"y":2.9},{"chr":10,"pos":378,"y":3.0},{"chr":10,"pos":382,"y":3.8},{"chr":10,"pos":386,"y":4.0},
{"chr":11,"pos":386,"y":3.8},{"chr":11,"pos":392,"y":3.4},{"chr":11,"pos":397,"y":3.6},{"chr":11,"pos":401,"y":3.9},{"chr":11,"pos":406,"y":3.7},{"chr":11,"pos":410,"y":2.7},{"chr":11,"pos":414,"y":2.4},{"chr":11,"pos":418,"y":3.1},{"chr":11,"pos":420,"y":3.0},
{"chr":12,"pos":420,"y":3.3},{"chr":12,"pos":426,"y":3.4},{"chr":12,"pos":432,"y":3.2},{"chr":12,"pos":440,"y":3.4},{"chr":12,"pos":444,"y":3.0},{"chr":12,"pos":448,"y":3.2},
{"chr":13,"pos":448,"y":3.5},{"chr":13,"pos":453,"y":3.0},{"chr":13,"pos":458,"y":3.0},{"chr":13,"pos":464,"y":2.9},{"chr":13,"pos":470,"y":3.0},{"chr":13,"pos":475,"y":2.7},
{"chr":14,"pos":475,"y":2.9},{"chr":14,"pos":480,"y":3.3},{"chr":14,"pos":485,"y":3.5},{"chr":14,"pos":490,"y":3.4},{"chr":14,"pos":496,"y":3.2},{"chr":14,"pos":500,"y":3.8},{"chr":14,"pos":502,"y":3.2},
{"chr":15,"pos":502,"y":2.5},{"chr":15,"pos":507,"y":2.7},{"chr":15,"pos":512,"y":2.9},{"chr":15,"pos":516,"y":3.4},{"chr":15,"pos":521,"y":3.3},{"chr":15,"pos":526,"y":3.6},{"chr":15,"pos":529,"y":3.4},
{"chr":16,"pos":529,"y":3.7},{"chr":16,"pos":535,"y":4.1},{"chr":16,"pos":540,"y":3.6},{"chr":16,"pos":545,"y":3.1},{"chr":16,"pos":552,"y":3.4},{"chr":16,"pos":555,"y":3.9},
{"chr":17,"pos":555,"y":2.9},{"chr":17,"pos":560,"y":3.3},{"chr":17,"pos":565,"y":3.5},{"chr":17,"pos":570,"y":3.5},{"chr":17,"pos":575,"y":3.2},{"chr":17,"pos":579,"y":3.1},
{"chr":18,"pos":579,"y":3.2},{"chr":18,"pos":583,"y":3.0},{"chr":18,"pos":587,"y":2.6},{"chr":18,"pos":592,"y":2.7},{"chr":18,"pos":596,"y":3.0},{"chr":18,"pos":600,"y":3.0},
{"chr":19,"pos":600,"y":2.9},{"chr":19,"pos":605,"y":3.3},{"chr":19,"pos":609,"y":3.5},{"chr":19,"pos":614,"y":3.2},{"chr":19,"pos":620,"y":2.9},
{"chr":20,"pos":620,"y":2.9},{"chr":20,"pos":625,"y":3.4},{"chr":20,"pos":629,"y":3.1},{"chr":20,"pos":634,"y":2.9},{"chr":20,"pos":640,"y":2.7},{"chr":20,"pos":643,"y":2.5},
{"chr":21,"pos":643,"y":2.6},{"chr":21,"pos":648,"y":3.1},{"chr":21,"pos":651,"y":4.05},{"chr":21,"pos":655,"y":3.2},{"chr":21,"pos":660,"y":3.4},{"chr":21,"pos":665,"y":3.5},{"chr":21,"pos":666,"y":2.9},
{"chr":22,"pos":666,"y":2.8},{"chr":22,"pos":672,"y":3.2},{"chr":22,"pos":678,"y":3.2},{"chr":22,"pos":685,"y":3.0},
{"chr":23,"pos":685,"y":3.2},{"chr":23,"pos":690,"y":3.3},{"chr":23,"pos":695,"y":3.5},{"chr":23,"pos":700,"y":3.8},{"chr":23,"pos":702,"y":2.9},
{"chr":24,"pos":702,"y":3.3},{"chr":24,"pos":708,"y":3.2},{"chr":24,"pos":714,"y":3.0},{"chr":24,"pos":720,"y":3.0},{"chr":24,"pos":722,"y":3.9},
{"chr":25,"pos":722,"y":3.2},{"chr":25,"pos":726,"y":3.6},{"chr":25,"pos":730,"y":3.6},{"chr":25,"pos":736,"y":3.4},
{"chr":26,"pos":736,"y":3.0},{"chr":26,"pos":742,"y":3.3},{"chr":26,"pos":746,"y":3.9},{"chr":26,"pos":751,"y":3.2},
{"chr":27,"pos":751,"y":2.8},{"chr":27,"pos":755,"y":2.8},{"chr":27,"pos":760,"y":3.0},{"chr":27,"pos":766,"y":3.3},
{"chr":28,"pos":766,"y":3.2},{"chr":28,"pos":772,"y":3.2},{"chr":28,"pos":777,"y":3.0},{"chr":28,"pos":781,"y":3.3},
{"chr":29,"pos":781,"y":3.2},{"chr":29,"pos":785,"y":3.9},{"chr":29,"pos":789,"y":3.6},{"chr":29,"pos":794,"y":4.1},{"chr":29,"pos":798,"y":3.4},{"chr":29,"pos":801,"y":3.0}],
"d_runs":[{"chr":1,"pos":20,"lo":3.4,"y":5.15},{"chr":3,"pos":110,"lo":3.2,"y":5.45},{"chr":3,"pos":115,"lo":4.3,"y":5.1},{"chr":4,"pos":143,"lo":3.8,"y":5.5},{"chr":6,"pos":223.5,"lo":0,"y":6.6},{"chr":6,"pos":223.5,"lo":6.8,"y":7.6},{"chr":6,"pos":223.5,"lo":8.8,"y":9.2},{"chr":6,"pos":223.5,"lo":9.4,"y":10.4},{"chr":6,"pos":228.7,"lo":4.0,"y":5.3},{"chr":9,"pos":331.7,"lo":3.5,"y":4.8},{"chr":13,"pos":470.3,"lo":3.2,"y":5.0},{"chr":13,"pos":470.3,"lo":5.0,"y":5.5},{"chr":20,"pos":633.7,"lo":3.3,"y":5.2},{"chr":29,"pos":788,"lo":4.0,"y":5.0},{"chr":29,"pos":788,"lo":5.1,"y":5.6},{"chr":29,"pos":794,"lo":3.2,"y":4.1},{"chr":14,"pos":484.7,"lo":3.8,"y":4.4},{"chr":8,"pos":299,"lo":3.7,"y":4.8},{"chr":17,"pos":560.7,"lo":3.3,"y":4.3},{"chr":10,"pos":355.7,"lo":4.3,"y":5.2}],
"d_dots":[{"chr":6,"pos":223.5,"y":10.5},{"chr":6,"pos":223.5,"y":8.2},{"chr":6,"pos":223.5,"y":8.0},{"chr":6,"pos":223.5,"y":7.85},{"chr":1,"pos":3,"y":4.55},{"chr":1,"pos":7,"y":4.7},{"chr":1,"pos":6.7,"y":4.55},{"chr":1,"pos":25,"y":4.1},{"chr":1,"pos":46,"y":4.55},{"chr":1,"pos":46,"y":4.2},{"chr":1,"pos":47,"y":3.8},{"chr":1,"pos":49,"y":3.6},{"chr":1,"pos":20,"y":5.55},{"chr":2,"pos":54,"y":4.7},{"chr":2,"pos":54,"y":4.0},{"chr":2,"pos":56,"y":4.4},{"chr":2,"pos":59,"y":4.3},{"chr":2,"pos":56,"y":3.8},{"chr":2,"pos":91,"y":5.2},{"chr":2,"pos":91,"y":5.0},{"chr":2,"pos":91,"y":4.5},{"chr":2,"pos":91,"y":4.4},{"chr":2,"pos":91,"y":4.2},{"chr":2,"pos":91,"y":3.8},{"chr":2,"pos":78,"y":3.2},{"chr":3,"pos":110.3,"y":5.8},{"chr":3,"pos":115,"y":5.55},{"chr":3,"pos":102.7,"y":4.0},{"chr":3,"pos":120,"y":3.8},{"chr":3,"pos":125,"y":3.6},{"chr":3,"pos":131,"y":4.1},{"chr":4,"pos":143,"y":5.85},{"chr":4,"pos":155,"y":4.15},{"chr":4,"pos":155,"y":3.6},{"chr":5,"pos":190,"y":3.65},{"chr":5,"pos":190,"y":3.4},{"chr":6,"pos":212,"y":3.5},{"chr":6,"pos":215,"y":4.4},{"chr":6,"pos":217,"y":4.35},{"chr":7,"pos":257.3,"y":4.35},{"chr":7,"pos":250,"y":3.8},{"chr":7,"pos":255,"y":3.8},{"chr":7,"pos":255,"y":3.5},{"chr":7,"pos":265,"y":3.7},{"chr":7,"pos":278.7,"y":5.4},{"chr":7,"pos":278.7,"y":5.05},{"chr":7,"pos":283.3,"y":5.05},{"chr":7,"pos":283.3,"y":4.6},{"chr":7,"pos":278.7,"y":4.8},{"chr":7,"pos":278.7,"y":4.5},{"chr":8,"pos":299,"y":5.75},{"chr":8,"pos":308,"y":4.1},{"chr":8,"pos":313,"y":4.4},{"chr":8,"pos":317,"y":4.3},{"chr":9,"pos":323,"y":4.5},{"chr":9,"pos":323,"y":4.1},{"chr":9,"pos":338.7,"y":4.5},{"chr":9,"pos":340,"y":4.1},{"chr":9,"pos":352,"y":4.3},{"chr":9,"pos":349,"y":4.2},{"chr":10,"pos":378.7,"y":5.0},{"chr":10,"pos":378.7,"y":4.65},{"chr":10,"pos":378.7,"y":4.2},{"chr":10,"pos":364,"y":3.6},{"chr":11,"pos":403.3,"y":4.7},{"chr":11,"pos":394,"y":4.1},{"chr":11,"pos":391,"y":4.0},{"chr":11,"pos":420,"y":4.1},{"chr":11,"pos":419,"y":3.75},{"chr":12,"pos":423,"y":4.3},{"chr":12,"pos":431,"y":4.1},{"chr":12,"pos":441,"y":4.5},{"chr":12,"pos":441,"y":4.0},{"chr":13,"pos":452.3,"y":6.15},{"chr":13,"pos":452.3,"y":4.6},{"chr":13,"pos":453,"y":3.6},{"chr":13,"pos":460,"y":3.85},{"chr":13,"pos":460,"y":3.7},{"chr":13,"pos":460,"y":3.55},{"chr":13,"pos":476,"y":3.4},{"chr":14,"pos":484.7,"y":5.05},{"chr":14,"pos":484.7,"y":4.85},{"chr":14,"pos":484.7,"y":4.6},{"chr":15,"pos":503,"y":4.15},{"chr":15,"pos":515,"y":4.15},{"chr":15,"pos":521,"y":4.8},{"chr":15,"pos":519,"y":4.5},{"chr":15,"pos":525,"y":4.5},{"chr":15,"pos":525,"y":4.2},{"chr":15,"pos":530,"y":4.5},{"chr":15,"pos":530,"y":4.3},{"chr":16,"pos":534.7,"y":5.15},{"chr":16,"pos":538.3,"y":5.8},{"chr":16,"pos":538.3,"y":5.65},{"chr":16,"pos":538.3,"y":5.25},{"chr":16,"pos":538.3,"y":4.6},{"chr":17,"pos":560.7,"y":4.35},{"chr":17,"pos":568,"y":3.8},{"chr":17,"pos":578,"y":4.0},{"chr":17,"pos":578,"y":3.85},{"chr":17,"pos":579,"y":6.0},{"chr":18,"pos":590,"y":3.8},{"chr":18,"pos":598,"y":3.3},{"chr":19,"pos":608,"y":4.2},{"chr":19,"pos":612,"y":4.2},{"chr":19,"pos":612,"y":4.0},{"chr":19,"pos":616,"y":3.85},{"chr":20,"pos":633.7,"y":5.35},{"chr":20,"pos":638,"y":4.35},{"chr":21,"pos":647,"y":3.7},{"chr":21,"pos":660,"y":4.3},{"chr":21,"pos":662,"y":4.4},{"chr":21,"pos":665.7,"y":4.65},{"chr":21,"pos":664,"y":3.9},{"chr":22,"pos":677,"y":4.65},{"chr":22,"pos":682,"y":4.7},{"chr":22,"pos":680,"y":4.3},{"chr":22,"pos":680,"y":4.0},{"chr":22,"pos":682,"y":3.8},{"chr":23,"pos":692,"y":3.8},{"chr":23,"pos":695,"y":3.9},{"chr":23,"pos":702,"y":4.8},{"chr":23,"pos":702,"y":4.2},{"chr":23,"pos":702,"y":4.0},{"chr":24,"pos":706,"y":4.3},{"chr":25,"pos":723,"y":4.85},{"chr":25,"pos":723,"y":4.65},{"chr":25,"pos":730,"y":4.5},{"chr":25,"pos":730,"y":4.3},{"chr":25,"pos":726,"y":4.1},{"chr":26,"pos":746.7,"y":4.4},{"chr":26,"pos":746.7,"y":4.2},{"chr":27,"pos":761.3,"y":4.05},{"chr":27,"pos":761.3,"y":3.9},{"chr":27,"pos":761.3,"y":3.3},{"chr":28,"pos":769.7,"y":4.65},{"chr":28,"pos":769.7,"y":4.5},{"chr":28,"pos":769.7,"y":4.0},{"chr":28,"pos":782,"y":4.6},{"chr":28,"pos":782,"y":4.3},{"chr":29,"pos":793,"y":7.2},{"chr":29,"pos":792.7,"y":5.35},{"chr":29,"pos":793,"y":5.15},{"chr":29,"pos":783,"y":4.3},{"chr":29,"pos":785,"y":4.05},{"chr":29,"pos":798,"y":3.35}],
"e_sky":[{"chr":1,"pos":0.3,"y":2.9},{"chr":1,"pos":2,"y":3.9},{"chr":1,"pos":4,"y":3.0},{"chr":1,"pos":8,"y":3.0},{"chr":1,"pos":12,"y":3.1},{"chr":1,"pos":16,"y":3.2},{"chr":1,"pos":20,"y":2.9},{"chr":1,"pos":24,"y":3.1},{"chr":1,"pos":28,"y":2.9},{"chr":1,"pos":32,"y":3.3},{"chr":1,"pos":36,"y":4.4},{"chr":1,"pos":38,"y":3.6},{"chr":1,"pos":42,"y":3.1},{"chr":1,"pos":45,"y":3.5},{"chr":1,"pos":48,"y":3.4},{"chr":1,"pos":50,"y":3.0},
{"chr":2,"pos":50,"y":3.5},{"chr":2,"pos":53,"y":4.0},{"chr":2,"pos":57,"y":4.5},{"chr":2,"pos":61,"y":4.2},{"chr":2,"pos":65,"y":4.0},{"chr":2,"pos":68,"y":3.0},{"chr":2,"pos":73,"y":2.9},{"chr":2,"pos":76,"y":3.7},{"chr":2,"pos":78,"y":3.0},{"chr":2,"pos":82,"y":3.2},{"chr":2,"pos":85,"y":4.0},{"chr":2,"pos":89,"y":3.5},{"chr":2,"pos":94,"y":3.2},
{"chr":3,"pos":94,"y":2.1},{"chr":3,"pos":98,"y":2.6},{"chr":3,"pos":102,"y":3.3},{"chr":3,"pos":106,"y":3.0},{"chr":3,"pos":110,"y":3.4},{"chr":3,"pos":114,"y":3.8},{"chr":3,"pos":118,"y":3.2},{"chr":3,"pos":124,"y":3.2},{"chr":3,"pos":128,"y":2.9},{"chr":3,"pos":132,"y":3.1},
{"chr":4,"pos":132,"y":3.1},{"chr":4,"pos":137,"y":3.0},{"chr":4,"pos":141,"y":2.6},{"chr":4,"pos":144,"y":3.3},{"chr":4,"pos":150,"y":3.5},{"chr":4,"pos":154,"y":3.4},{"chr":4,"pos":158,"y":3.4},{"chr":4,"pos":164,"y":3.3},{"chr":4,"pos":170,"y":3.0},
{"chr":5,"pos":170,"y":2.7},{"chr":5,"pos":175,"y":3.3},{"chr":5,"pos":179,"y":3.8},{"chr":5,"pos":183,"y":3.1},{"chr":5,"pos":188,"y":3.8},{"chr":5,"pos":192,"y":3.0},{"chr":5,"pos":197,"y":3.0},{"chr":5,"pos":202,"y":3.7},{"chr":5,"pos":206,"y":3.8},{"chr":5,"pos":210,"y":2.9},
{"chr":6,"pos":210,"y":3.0},{"chr":6,"pos":215,"y":3.3},{"chr":6,"pos":219,"y":3.0},{"chr":6,"pos":224,"y":3.9},{"chr":6,"pos":228,"y":3.5},{"chr":6,"pos":233,"y":3.0},{"chr":6,"pos":238,"y":3.3},{"chr":6,"pos":243,"y":3.1},{"chr":6,"pos":247,"y":2.9},
{"chr":7,"pos":247,"y":3.0},{"chr":7,"pos":252,"y":3.0},{"chr":7,"pos":256,"y":3.2},{"chr":7,"pos":260,"y":2.6},{"chr":7,"pos":264,"y":3.0},{"chr":7,"pos":268,"y":3.7},{"chr":7,"pos":273,"y":4.1},{"chr":7,"pos":278,"y":3.6},{"chr":7,"pos":283,"y":3.2},
{"chr":8,"pos":283,"y":3.1},{"chr":8,"pos":288,"y":3.0},{"chr":8,"pos":292,"y":3.6},{"chr":8,"pos":298,"y":3.0},{"chr":8,"pos":303,"y":3.0},{"chr":8,"pos":307,"y":3.2},{"chr":8,"pos":310,"y":2.3},{"chr":8,"pos":314,"y":2.6},{"chr":8,"pos":319,"y":3.4},
{"chr":9,"pos":319,"y":2.6},{"chr":9,"pos":324,"y":2.8},{"chr":9,"pos":330,"y":3.4},{"chr":9,"pos":335,"y":3.0},{"chr":9,"pos":339,"y":3.6},{"chr":9,"pos":344,"y":3.0},{"chr":9,"pos":350,"y":3.3},{"chr":9,"pos":352,"y":3.1},
{"chr":10,"pos":352,"y":3.2},{"chr":10,"pos":358,"y":3.3},{"chr":10,"pos":362,"y":3.0},{"chr":10,"pos":368,"y":3.3},{"chr":10,"pos":374,"y":3.2},{"chr":10,"pos":378,"y":4.2},{"chr":10,"pos":382,"y":3.6},{"chr":10,"pos":386,"y":3.5},
{"chr":11,"pos":386,"y":2.9},{"chr":11,"pos":392,"y":3.3},{"chr":11,"pos":396,"y":3.5},{"chr":11,"pos":401,"y":3.1},{"chr":11,"pos":405,"y":2.9},{"chr":11,"pos":410,"y":3.1},{"chr":11,"pos":414,"y":3.9},{"chr":11,"pos":418,"y":3.5},{"chr":11,"pos":420,"y":2.8},
{"chr":12,"pos":420,"y":3.0},{"chr":12,"pos":425,"y":2.7},{"chr":12,"pos":430,"y":2.5},{"chr":12,"pos":436,"y":3.2},{"chr":12,"pos":440,"y":3.4},{"chr":12,"pos":444,"y":4.1},{"chr":12,"pos":448,"y":3.2},
{"chr":13,"pos":448,"y":3.5},{"chr":13,"pos":452,"y":3.3},{"chr":13,"pos":456,"y":3.2},{"chr":13,"pos":462,"y":2.9},{"chr":13,"pos":466,"y":3.3},{"chr":13,"pos":470,"y":3.8},{"chr":13,"pos":475,"y":3.2},
{"chr":14,"pos":475,"y":3.6},{"chr":14,"pos":480,"y":3.2},{"chr":14,"pos":485,"y":3.1},{"chr":14,"pos":490,"y":2.8},{"chr":14,"pos":496,"y":2.8},{"chr":14,"pos":500,"y":3.1},{"chr":14,"pos":502,"y":2.8},
{"chr":15,"pos":502,"y":2.8},{"chr":15,"pos":507,"y":3.3},{"chr":15,"pos":512,"y":3.4},{"chr":15,"pos":517,"y":3.2},{"chr":15,"pos":522,"y":3.0},{"chr":15,"pos":529,"y":2.8},
{"chr":16,"pos":529,"y":3.1},{"chr":16,"pos":535,"y":3.0},{"chr":16,"pos":540,"y":3.1},{"chr":16,"pos":545,"y":2.7},{"chr":16,"pos":547,"y":2.3},{"chr":16,"pos":550,"y":2.9},{"chr":16,"pos":554,"y":3.3},{"chr":16,"pos":555,"y":3.2},
{"chr":17,"pos":555,"y":2.8},{"chr":17,"pos":560,"y":2.6},{"chr":17,"pos":564,"y":3.5},{"chr":17,"pos":568,"y":3.3},{"chr":17,"pos":572,"y":3.0},{"chr":17,"pos":576,"y":3.5},{"chr":17,"pos":579,"y":2.8},
{"chr":18,"pos":579,"y":3.4},{"chr":18,"pos":584,"y":3.0},{"chr":18,"pos":590,"y":3.7},{"chr":18,"pos":595,"y":3.0},{"chr":18,"pos":600,"y":3.1},
{"chr":19,"pos":600,"y":2.8},{"chr":19,"pos":604,"y":2.7},{"chr":19,"pos":608,"y":2.9},{"chr":19,"pos":612,"y":2.8},{"chr":19,"pos":616,"y":3.0},{"chr":19,"pos":620,"y":2.9},
{"chr":20,"pos":620,"y":3.2},{"chr":20,"pos":626,"y":3.6},{"chr":20,"pos":631,"y":3.5},{"chr":20,"pos":636,"y":3.2},{"chr":20,"pos":641,"y":3.3},{"chr":20,"pos":643,"y":3.0},
{"chr":21,"pos":643,"y":3.1},{"chr":21,"pos":648,"y":3.3},{"chr":21,"pos":652,"y":2.6},{"chr":21,"pos":657,"y":3.3},{"chr":21,"pos":661,"y":3.6},{"chr":21,"pos":666,"y":2.9},
{"chr":22,"pos":666,"y":2.6},{"chr":22,"pos":672,"y":2.6},{"chr":22,"pos":678,"y":3.0},{"chr":22,"pos":683,"y":3.3},{"chr":22,"pos":685,"y":3.0},
{"chr":23,"pos":685,"y":2.5},{"chr":23,"pos":688,"y":3.0},{"chr":23,"pos":692,"y":4.5},{"chr":23,"pos":696,"y":3.8},{"chr":23,"pos":700,"y":3.0},{"chr":23,"pos":702,"y":2.6},
{"chr":24,"pos":702,"y":2.6},{"chr":24,"pos":708,"y":2.7},{"chr":24,"pos":712,"y":3.2},{"chr":24,"pos":716,"y":3.4},{"chr":24,"pos":722,"y":2.9},
{"chr":25,"pos":722,"y":3.3},{"chr":25,"pos":727,"y":3.6},{"chr":25,"pos":731,"y":4.0},{"chr":25,"pos":736,"y":3.8},
{"chr":26,"pos":736,"y":2.9},{"chr":26,"pos":741,"y":3.4},{"chr":26,"pos":746,"y":3.0},{"chr":26,"pos":751,"y":2.7},
{"chr":27,"pos":751,"y":2.7},{"chr":27,"pos":756,"y":2.6},{"chr":27,"pos":760,"y":3.0},{"chr":27,"pos":766,"y":3.0},
{"chr":28,"pos":766,"y":3.4},{"chr":28,"pos":771,"y":3.5},{"chr":28,"pos":776,"y":3.9},{"chr":28,"pos":781,"y":3.4},
{"chr":29,"pos":781,"y":2.5},{"chr":29,"pos":785,"y":2.7},{"chr":29,"pos":790,"y":3.4},{"chr":29,"pos":794,"y":3.0},{"chr":29,"pos":798,"y":2.5},{"chr":29,"pos":801,"y":2.0}],
"e_runs":[{"chr":1,"pos":2,"lo":3.5,"y":5.7},{"chr":1,"pos":2,"lo":6.1,"y":6.6},{"chr":1,"pos":2,"lo":6.9,"y":8.4},{"chr":1,"pos":36.7,"lo":3.5,"y":5.0},{"chr":2,"pos":53.7,"lo":5.5,"y":6.05},{"chr":2,"pos":53.7,"lo":3.5,"y":4.2},{"chr":2,"pos":57.3,"lo":3.5,"y":4.9},{"chr":2,"pos":67,"lo":3.5,"y":4.6},{"chr":2,"pos":67,"lo":4.9,"y":5.6},{"chr":2,"pos":67,"lo":5.7,"y":6.05},{"chr":4,"pos":153.7,"lo":3.2,"y":4.95},{"chr":5,"pos":179.7,"lo":3.0,"y":4.1},{"chr":5,"pos":188.7,"lo":3.0,"y":4.3},{"chr":5,"pos":203,"lo":3.0,"y":5.05},{"chr":5,"pos":208,"lo":3.2,"y":4.95},{"chr":6,"pos":224,"lo":3.3,"y":5.0},{"chr":6,"pos":229.7,"lo":3.1,"y":4.55},{"chr":7,"pos":278.7,"lo":3.3,"y":5.0},{"chr":7,"pos":273.5,"lo":3.5,"y":4.4},{"chr":8,"pos":299,"lo":3.0,"y":4.1},{"chr":9,"pos":335,"lo":3,"y":3.7},{"chr":9,"pos":346,"lo":3.1,"y":4.05},{"chr":10,"pos":376.7,"lo":3.3,"y":5.0},{"chr":11,"pos":400,"lo":3.0,"y":4.0},{"chr":11,"pos":400,"lo":4.0,"y":4.7},{"chr":11,"pos":400,"lo":4.9,"y":5.6},{"chr":13,"pos":475,"lo":3.2,"y":5.0},{"chr":13,"pos":475,"lo":5.2,"y":5.35},{"chr":13,"pos":475,"lo":5.93,"y":6.3},{"chr":15,"pos":515,"lo":3.5,"y":4.5},{"chr":15,"pos":519,"lo":3.5,"y":4.4},{"chr":16,"pos":554,"lo":3.3,"y":4.7},{"chr":17,"pos":565,"lo":3.2,"y":4.2},{"chr":17,"pos":575,"lo":3.0,"y":4.4},{"chr":19,"pos":605,"lo":3.0,"y":4.4},{"chr":19,"pos":615,"lo":3.3,"y":4.3},{"chr":20,"pos":628.7,"lo":3.5,"y":4.7},{"chr":22,"pos":686.7,"lo":3.4,"y":5.6},{"chr":23,"pos":692.5,"lo":3.5,"y":4.4},{"chr":25,"pos":724,"lo":3.3,"y":4.3},{"chr":26,"pos":741,"lo":4.2,"y":5.0},{"chr":27,"pos":756,"lo":3.0,"y":4.0},{"chr":27,"pos":756,"lo":4.2,"y":4.5}],
"e_dots":[{"chr":1,"pos":2,"y":5.9},{"chr":1,"pos":2,"y":8.7},{"chr":1,"pos":2,"y":9.35},{"chr":1,"pos":13,"y":5.0},{"chr":1,"pos":13,"y":4.95},{"chr":1,"pos":13,"y":4.45},{"chr":1,"pos":15,"y":4.72},{"chr":1,"pos":13,"y":4.0},{"chr":1,"pos":15,"y":4.05},{"chr":1,"pos":23,"y":3.95},{"chr":1,"pos":11,"y":3.45},{"chr":1,"pos":28,"y":3.6},{"chr":1,"pos":36.7,"y":5.2},{"chr":1,"pos":44.7,"y":4.85},{"chr":1,"pos":46,"y":4.5},{"chr":1,"pos":48,"y":4.7},{"chr":1,"pos":48,"y":4.4},{"chr":2,"pos":67,"y":6.65},{"chr":2,"pos":88.3,"y":6.0},{"chr":2,"pos":85,"y":4.55},{"chr":2,"pos":93,"y":4.4},{"chr":3,"pos":103,"y":4.55},{"chr":3,"pos":103,"y":4.4},{"chr":3,"pos":100,"y":4.1},{"chr":3,"pos":112,"y":4.25},{"chr":3,"pos":117,"y":3.7},{"chr":3,"pos":131,"y":3.6},{"chr":4,"pos":158,"y":3.8},{"chr":4,"pos":168,"y":4.3},{"chr":4,"pos":168,"y":4.15},{"chr":5,"pos":178,"y":5.35},{"chr":5,"pos":178,"y":5.25},{"chr":5,"pos":184,"y":5.38},{"chr":5,"pos":179,"y":4.5},{"chr":5,"pos":184,"y":4.55},{"chr":5,"pos":188,"y":4.55},{"chr":5,"pos":173,"y":3.75},{"chr":5,"pos":203,"y":5.3},{"chr":5,"pos":208,"y":5.2},{"chr":5,"pos":208,"y":4.6},{"chr":6,"pos":232,"y":4.0},{"chr":6,"pos":215,"y":3.95},{"chr":7,"pos":273,"y":5.7},{"chr":7,"pos":273,"y":5.45},{"chr":7,"pos":278.7,"y":5.15},{"chr":7,"pos":250.7,"y":4.0},{"chr":7,"pos":260,"y":3.75},{"chr":7,"pos":273,"y":4.7},{"chr":8,"pos":292.3,"y":4.5},{"chr":8,"pos":296,"y":4.15},{"chr":8,"pos":305,"y":3.55},{"chr":8,"pos":312,"y":3.85},{"chr":9,"pos":321.7,"y":3.5},{"chr":9,"pos":321,"y":3.1},{"chr":9,"pos":336,"y":3.9},{"chr":9,"pos":336,"y":3.8},{"chr":9,"pos":336,"y":4.0},{"chr":9,"pos":353,"y":4.35},{"chr":9,"pos":353,"y":4.3},{"chr":9,"pos":353,"y":3.8},{"chr":9,"pos":346,"y":4.0},{"chr":10,"pos":360,"y":4.5},{"chr":10,"pos":360,"y":4.2},{"chr":10,"pos":371,"y":4.5},{"chr":10,"pos":384.3,"y":5.4},{"chr":10,"pos":384,"y":4.5},{"chr":11,"pos":400,"y":6.07},{"chr":11,"pos":400,"y":5.65},{"chr":11,"pos":415,"y":4.7},{"chr":11,"pos":415,"y":4.5},{"chr":11,"pos":415,"y":4.0},{"chr":12,"pos":445.7,"y":4.95},{"chr":12,"pos":441.7,"y":4.6},{"chr":12,"pos":445.7,"y":4.3},{"chr":12,"pos":438.7,"y":4.1},{"chr":12,"pos":429,"y":3.9},{"chr":13,"pos":453.3,"y":4.1},{"chr":13,"pos":453.3,"y":4.0},{"chr":13,"pos":455,"y":3.7},{"chr":14,"pos":494.3,"y":4.05},{"chr":14,"pos":485,"y":3.7},{"chr":14,"pos":498,"y":3.55},{"chr":15,"pos":515,"y":5.35},{"chr":15,"pos":515,"y":5.1},{"chr":15,"pos":515,"y":5.0},{"chr":15,"pos":515,"y":4.8},{"chr":15,"pos":509,"y":4.85},{"chr":15,"pos":512,"y":4.3},{"chr":16,"pos":537,"y":3.95},{"chr":17,"pos":563.3,"y":5.0},{"chr":17,"pos":558,"y":3.3},{"chr":18,"pos":590,"y":5.25},{"chr":18,"pos":590,"y":4.45},{"chr":18,"pos":590,"y":4.3},{"chr":18,"pos":596,"y":4.3},{"chr":18,"pos":590,"y":4.0},{"chr":19,"pos":615,"y":5.0},{"chr":19,"pos":615,"y":4.6},{"chr":20,"pos":628.7,"y":5.25},{"chr":20,"pos":628.7,"y":4.95},{"chr":20,"pos":640,"y":4.2},{"chr":21,"pos":650.3,"y":3.95},{"chr":21,"pos":657.7,"y":4.15},{"chr":21,"pos":657.7,"y":3.75},{"chr":21,"pos":664,"y":3.8},{"chr":21,"pos":666,"y":3.9},{"chr":22,"pos":673.7,"y":4.85},{"chr":22,"pos":679.3,"y":5.55},{"chr":22,"pos":679.3,"y":5.1},{"chr":22,"pos":679.3,"y":4.7},{"chr":22,"pos":679.3,"y":4.3},{"chr":22,"pos":675,"y":3.7},{"chr":23,"pos":693,"y":4.4},{"chr":23,"pos":701,"y":4.05},{"chr":23,"pos":701,"y":3.8},{"chr":23,"pos":701,"y":3.5},{"chr":24,"pos":715,"y":4.2},{"chr":24,"pos":705,"y":3.8},{"chr":26,"pos":740.7,"y":5.25},{"chr":26,"pos":740.7,"y":5.1},{"chr":26,"pos":739,"y":4.2},{"chr":27,"pos":763.7,"y":4.05},{"chr":27,"pos":763.7,"y":3.9},{"chr":27,"pos":763.7,"y":3.6},{"chr":27,"pos":763.7,"y":3.4},{"chr":27,"pos":759,"y":3.45},{"chr":28,"pos":775.7,"y":4.3},{"chr":29,"pos":792.7,"y":4.35},{"chr":29,"pos":792.7,"y":3.95},{"chr":29,"pos":798,"y":3.95}]
},
"vconcat":[
{"width":919,"height":497,"encoding":{"x":{"field":"pos","type":"quantitative","scale":{"domain":[-80,839],"nice":false,"zero":false},"axis":{"orient":"bottom","offset":-95,"title":"Chromosome","titleFontSize":9.5,"titleFontWeight":"normal","titleColor":"#444444","titleX":481,"titleY":30,"domain":false,"grid":false,"tickColor":"#555555","tickSize":6,"labelFontSize":10,"labelColor":"#333333","labelPadding":7,"labelOverlap":false,"labelFlush":false,"values":[27.3,73.7,114.7,153,192,230,267,302.3,337.3,370.7,404,435.7,463.7,490,517,543.3,568.3,591.3,611.7,633.3,656,677.3,695.7,713.3,730.3,745.3,760.3,775,790.7],"labelExpr":"['1','2','3','4','5','6','7','8','9','10','11','12','13','14','15','16','17','18','19','20','21','22','','24','','26','','28',''][indexof([27.3,73.7,114.7,153,192,230,267,302.3,337.3,370.7,404,435.7,463.7,490,517,543.3,568.3,591.3,611.7,633.3,656,677.3,695.7,713.3,730.3,745.3,760.3,775,790.7],datum.value)]"}},"y":{"field":"y","type":"quantitative","stack":null,"scale":{"domain":[-5.68,23.73],"nice":false,"zero":false},"axis":{"offset":-58,"values":[0,5,10,15,20],"title":"-log(P)","titleFontSize":9.5,"titleFontWeight":"normal","titleColor":"#444444","titleX":-29,"titleY":207,"domain":false,"grid":false,"tickColor":"#555555","tickSize":6,"labelFontSize":10,"labelColor":"#333333","labelPadding":4}},"color":{"field":"chr","type":"nominal","scale":{"domain":[1,2,3,4,5,6,7,8,9,10,11,12,13,14,15,16,17,18,19,20,21,22,23,24,25,26,27,28,29],"range":["#1a1a1a","#9a9a9a"]},"legend":null}},
"layer":[{"data":{"name":"a_sky"},"mark":{"type":"area","interpolate":"linear","orient":"vertical"}},{"data":{"name":"a_runs"},"mark":{"type":"rule","strokeWidth":3.2,"strokeCap":"round"},"encoding":{"y2":{"field":"lo"}}},{"data":{"name":"a_dots"},"mark":{"type":"circle","size":10,"opacity":1}},{"data":{"values":[{"y":5,"pos":-22,"end":823}]},"mark":{"type":"rule","strokeWidth":1.5},"encoding":{"x2":{"field":"end"},"color":{"value":"#ff7070"}}},{"data":{"values":[{"y":2.3,"pos":-22,"end":823}]},"mark":{"type":"rule","strokeWidth":1.5},"encoding":{"x2":{"field":"end"},"color":{"value":"#4848e8"}}},{"data":{"values":[{"pos":-22,"y":20,"lo":0}]},"mark":{"type":"rule","strokeWidth":1},"encoding":{"y2":{"field":"lo"},"color":{"value":"#555555"}}},{"data":{"values":[{"pos":380,"y":-3.61,"label":"(a) HCW"}]},"mark":{"type":"text","font":"Liberation Serif","fontSize":21,"baseline":"middle"},"encoding":{"text":{"field":"label"},"color":{"value":"#000000"}}}]},
{"width":919,"height":496,"encoding":{"x":{"field":"pos","type":"quantitative","scale":{"domain":[-80,839],"nice":false,"zero":false},"axis":{"orient":"bottom","offset":-94,"title":"Chromosome","titleFontSize":9.5,"titleFontWeight":"normal","titleColor":"#444444","titleX":481,"titleY":30,"domain":false,"grid":false,"tickColor":"#555555","tickSize":6,"labelFontSize":10,"labelColor":"#333333","labelPadding":7,"labelOverlap":false,"labelFlush":false,"values":[27.3,73.7,114.7,153,192,230,267,302.3,337.3,370.7,404,435.7,463.7,490,517,543.3,568.3,591.3,611.7,633.3,656,677.3,695.7,713.3,730.3,745.3,760.3,775,790.7],"labelExpr":"['1','2','3','4','5','6','7','8','9','10','11','12','13','14','15','16','17','18','19','20','21','22','','24','','26','','28',''][indexof([27.3,73.7,114.7,153,192,230,267,302.3,337.3,370.7,404,435.7,463.7,490,517,543.3,568.3,591.3,611.7,633.3,656,677.3,695.7,713.3,730.3,745.3,760.3,775,790.7],datum.value)]"}},"y":{"field":"y","type":"quantitative","stack":null,"scale":{"domain":[-2.94,12.37],"nice":false,"zero":false},"axis":{"offset":-58,"values":[0,2,4,6,8,10,12],"title":"-log(P)","titleFontSize":9.5,"titleFontWeight":"normal","titleColor":"#444444","titleX":-29,"titleY":206,"domain":false,"grid":false,"tickColor":"#555555","tickSize":6,"labelFontSize":10,"labelColor":"#333333","labelPadding":4}},"color":{"field":"chr","type":"nominal","scale":{"domain":[1,2,3,4,5,6,7,8,9,10,11,12,13,14,15,16,17,18,19,20,21,22,23,24,25,26,27,28,29],"range":["#1a1a1a","#9a9a9a"]},"legend":null}},
"layer":[{"data":{"name":"b_sky"},"mark":{"type":"area","interpolate":"linear","orient":"vertical"}},{"data":{"name":"b_runs"},"mark":{"type":"rule","strokeWidth":3.2,"strokeCap":"round"},"encoding":{"y2":{"field":"lo"}}},{"data":{"name":"b_dots"},"mark":{"type":"circle","size":10,"opacity":1}},{"data":{"values":[{"y":5,"pos":-22,"end":823}]},"mark":{"type":"rule","strokeWidth":1.5},"encoding":{"x2":{"field":"end"},"color":{"value":"#ff7070"}}},{"data":{"values":[{"y":2.3,"pos":-22,"end":823}]},"mark":{"type":"rule","strokeWidth":1.5},"encoding":{"x2":{"field":"end"},"color":{"value":"#4848e8"}}},{"data":{"values":[{"pos":-22,"y":12,"lo":0}]},"mark":{"type":"rule","strokeWidth":1},"encoding":{"y2":{"field":"lo"},"color":{"value":"#555555"}}},{"data":{"values":[{"pos":380,"y":-1.87,"label":"(b) AFAT"}]},"mark":{"type":"text","font":"Liberation Serif","fontSize":21,"baseline":"middle"},"encoding":{"text":{"field":"label"},"color":{"value":"#000000"}}}]},
{"width":919,"height":495,"encoding":{"x":{"field":"pos","type":"quantitative","scale":{"domain":[-80,839],"nice":false,"zero":false},"axis":{"orient":"bottom","offset":-93,"title":"Chromosome","titleFontSize":9.5,"titleFontWeight":"normal","titleColor":"#444444","titleX":481,"titleY":30,"domain":false,"grid":false,"tickColor":"#555555","tickSize":6,"labelFontSize":10,"labelColor":"#333333","labelPadding":7,"labelOverlap":false,"labelFlush":false,"values":[27.3,73.7,114.7,153,192,230,267,302.3,337.3,370.7,404,435.7,463.7,490,517,543.3,568.3,591.3,611.7,633.3,656,677.3,695.7,713.3,730.3,745.3,760.3,775,790.7],"labelExpr":"['1','2','3','4','5','6','7','8','9','10','11','12','13','14','15','16','17','18','19','20','21','22','','24','','26','','28',''][indexof([27.3,73.7,114.7,153,192,230,267,302.3,337.3,370.7,404,435.7,463.7,490,517,543.3,568.3,591.3,611.7,633.3,656,677.3,695.7,713.3,730.3,745.3,760.3,775,790.7],datum.value)]"}},"y":{"field":"y","type":"quantitative","stack":null,"scale":{"domain":[-4.10,17.55],"nice":false,"zero":false},"axis":{"offset":-58,"values":[0,5,10,15],"title":"-log(P)","titleFontSize":9.5,"titleFontWeight":"normal","titleColor":"#444444","titleX":-29,"titleY":207,"domain":false,"grid":false,"tickColor":"#555555","tickSize":6,"labelFontSize":10,"labelColor":"#333333","labelPadding":4}},"color":{"field":"chr","type":"nominal","scale":{"domain":[1,2,3,4,5,6,7,8,9,10,11,12,13,14,15,16,17,18,19,20,21,22,23,24,25,26,27,28,29],"range":["#1a1a1a","#9a9a9a"]},"legend":null}},
"layer":[{"data":{"name":"c_sky"},"mark":{"type":"area","interpolate":"linear","orient":"vertical"}},{"data":{"name":"c_runs"},"mark":{"type":"rule","strokeWidth":3.2,"strokeCap":"round"},"encoding":{"y2":{"field":"lo"}}},{"data":{"name":"c_dots"},"mark":{"type":"circle","size":10,"opacity":1}},{"data":{"values":[{"y":5,"pos":-22,"end":823}]},"mark":{"type":"rule","strokeWidth":1.5},"encoding":{"x2":{"field":"end"},"color":{"value":"#ff7070"}}},{"data":{"values":[{"y":2.3,"pos":-22,"end":823}]},"mark":{"type":"rule","strokeWidth":1.5},"encoding":{"x2":{"field":"end"},"color":{"value":"#4848e8"}}},{"data":{"values":[{"pos":-22,"y":15,"lo":0}]},"mark":{"type":"rule","strokeWidth":1},"encoding":{"y2":{"field":"lo"},"color":{"value":"#555555"}}},{"data":{"values":[{"pos":380,"y":-2.65,"label":"(c) REA"}]},"mark":{"type":"text","font":"Liberation Serif","fontSize":21,"baseline":"middle"},"encoding":{"text":{"field":"label"},"color":{"value":"#000000"}}}]},
{"width":919,"height":496,"encoding":{"x":{"field":"pos","type":"quantitative","scale":{"domain":[-80,839],"nice":false,"zero":false},"axis":{"orient":"bottom","offset":-93,"title":"Chromosome","titleFontSize":9.5,"titleFontWeight":"normal","titleColor":"#444444","titleX":481,"titleY":30,"domain":false,"grid":false,"tickColor":"#555555","tickSize":6,"labelFontSize":10,"labelColor":"#333333","labelPadding":7,"labelOverlap":false,"labelFlush":false,"values":[27.3,73.7,114.7,153,192,230,267,302.3,337.3,370.7,404,435.7,463.7,490,517,543.3,568.3,591.3,611.7,633.3,656,677.3,695.7,713.3,730.3,745.3,760.3,775,790.7],"labelExpr":"['1','2','3','4','5','6','7','8','9','10','11','12','13','14','15','16','17','18','19','20','21','22','','24','','26','','28',''][indexof([27.3,73.7,114.7,153,192,230,267,302.3,337.3,370.7,404,435.7,463.7,490,517,543.3,568.3,591.3,611.7,633.3,656,677.3,695.7,713.3,730.3,745.3,760.3,775,790.7],datum.value)]"}},"y":{"field":"y","type":"quantitative","stack":null,"scale":{"domain":[-2.67,11.37],"nice":false,"zero":false},"axis":{"offset":-58,"values":[0,2,4,6,8,10],"title":"-log(P)","titleFontSize":9.5,"titleFontWeight":"normal","titleColor":"#444444","titleX":-29,"titleY":207,"domain":false,"grid":false,"tickColor":"#555555","tickSize":6,"labelFontSize":10,"labelColor":"#333333","labelPadding":4}},"color":{"field":"chr","type":"nominal","scale":{"domain":[1,2,3,4,5,6,7,8,9,10,11,12,13,14,15,16,17,18,19,20,21,22,23,24,25,26,27,28,29],"range":["#1a1a1a","#9a9a9a"]},"legend":null}},
"layer":[{"data":{"name":"d_sky"},"mark":{"type":"area","interpolate":"linear","orient":"vertical"}},{"data":{"name":"d_runs"},"mark":{"type":"rule","strokeWidth":3.2,"strokeCap":"round"},"encoding":{"y2":{"field":"lo"}}},{"data":{"name":"d_dots"},"mark":{"type":"circle","size":10,"opacity":1}},{"data":{"values":[{"y":5,"pos":-22,"end":823}]},"mark":{"type":"rule","strokeWidth":1.5},"encoding":{"x2":{"field":"end"},"color":{"value":"#ff7070"}}},{"data":{"values":[{"y":2.3,"pos":-22,"end":823}]},"mark":{"type":"rule","strokeWidth":1.5},"encoding":{"x2":{"field":"end"},"color":{"value":"#4848e8"}}},{"data":{"values":[{"pos":-22,"y":10,"lo":0}]},"mark":{"type":"rule","strokeWidth":1},"encoding":{"y2":{"field":"lo"},"color":{"value":"#555555"}}},{"data":{"values":[{"pos":380,"y":-1.71,"label":"(d) LMY"}]},"mark":{"type":"text","font":"Liberation Serif","fontSize":21,"baseline":"middle"},"encoding":{"text":{"field":"label"},"color":{"value":"#000000"}}}]},
{"width":919,"height":497,"encoding":{"x":{"field":"pos","type":"quantitative","scale":{"domain":[-80,839],"nice":false,"zero":false},"axis":{"orient":"bottom","offset":-95,"title":"Chromosome","titleFontSize":9.5,"titleFontWeight":"normal","titleColor":"#444444","titleX":481,"titleY":30,"domain":false,"grid":false,"tickColor":"#555555","tickSize":6,"labelFontSize":10,"labelColor":"#333333","labelPadding":7,"labelOverlap":false,"labelFlush":false,"values":[27.3,73.7,114.7,153,192,230,267,302.3,337.3,370.7,404,435.7,463.7,490,517,543.3,568.3,591.3,611.7,633.3,656,677.3,695.7,713.3,730.3,745.3,760.3,775,790.7],"labelExpr":"['1','2','3','4','5','6','7','8','9','10','11','12','13','14','15','16','17','18','19','20','21','22','','24','','26','','28',''][indexof([27.3,73.7,114.7,153,192,230,267,302.3,337.3,370.7,404,435.7,463.7,490,517,543.3,568.3,591.3,611.7,633.3,656,677.3,695.7,713.3,730.3,745.3,760.3,775,790.7],datum.value)]"}},"y":{"field":"y","type":"quantitative","stack":null,"scale":{"domain":[-2.46,10.32],"nice":false,"zero":false},"axis":{"offset":-58,"values":[0,2,4,6,8,10],"title":"-log(P)","titleFontSize":9.5,"titleFontWeight":"normal","titleColor":"#444444","titleX":-29,"titleY":206,"domain":false,"grid":false,"tickColor":"#555555","tickSize":6,"labelFontSize":10,"labelColor":"#333333","labelPadding":4}},"color":{"field":"chr","type":"nominal","scale":{"domain":[1,2,3,4,5,6,7,8,9,10,11,12,13,14,15,16,17,18,19,20,21,22,23,24,25,26,27,28,29],"range":["#1a1a1a","#9a9a9a"]},"legend":null}},
"layer":[{"data":{"name":"e_sky"},"mark":{"type":"area","interpolate":"linear","orient":"vertical"}},{"data":{"name":"e_runs"},"mark":{"type":"rule","strokeWidth":3.2,"strokeCap":"round"},"encoding":{"y2":{"field":"lo"}}},{"data":{"name":"e_dots"},"mark":{"type":"circle","size":10,"opacity":1}},{"data":{"values":[{"y":5,"pos":-22,"end":823}]},"mark":{"type":"rule","strokeWidth":1.5},"encoding":{"x2":{"field":"end"},"color":{"value":"#ff7070"}}},{"data":{"values":[{"y":2.3,"pos":-22,"end":823}]},"mark":{"type":"rule","strokeWidth":1.5},"encoding":{"x2":{"field":"end"},"color":{"value":"#4848e8"}}},{"data":{"values":[{"pos":-22,"y":10,"lo":0}]},"mark":{"type":"rule","strokeWidth":1},"encoding":{"y2":{"field":"lo"},"color":{"value":"#555555"}}},{"data":{"values":[{"pos":380,"y":-1.54,"label":"(e) CMAR"}]},"mark":{"type":"text","font":"Liberation Serif","fontSize":21,"baseline":"middle"},"encoding":{"text":{"field":"label"},"color":{"value":"#000000"}}}]}
]}
